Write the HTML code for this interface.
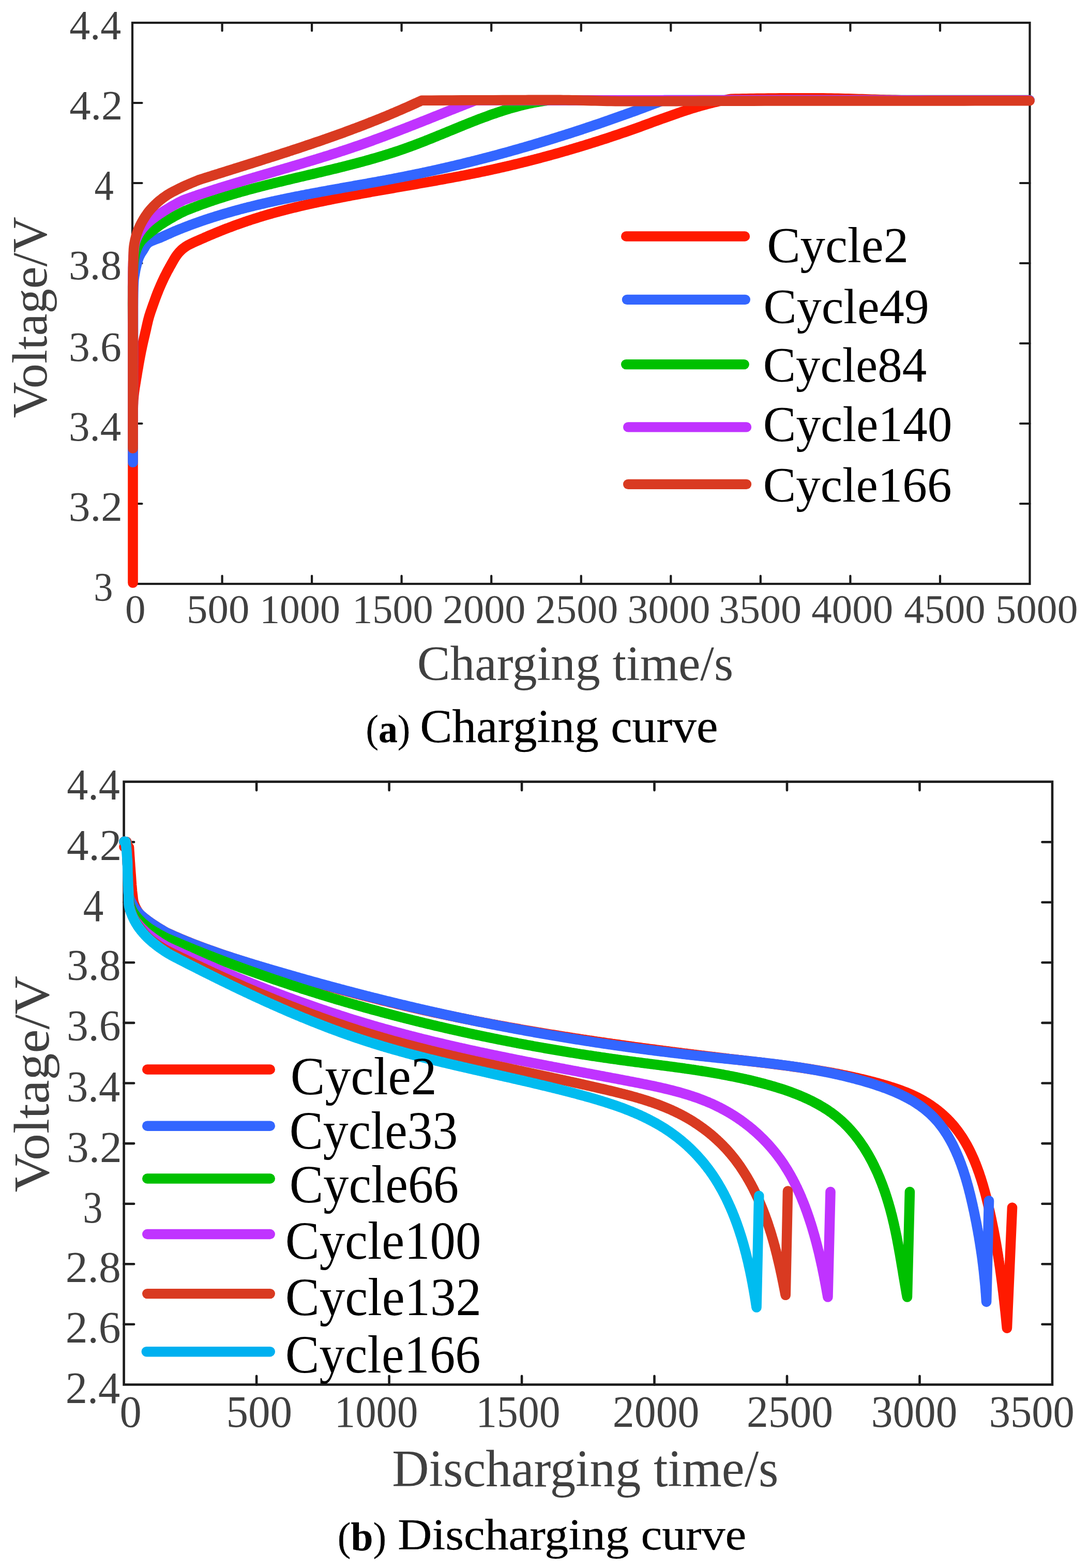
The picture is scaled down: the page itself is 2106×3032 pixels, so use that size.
<!DOCTYPE html>
<html lang="en"><head><meta charset="utf-8"><title>Charging and discharging curves</title>
<style>
html,body{margin:0;padding:0;background:#fff}
svg{display:block}
.c path{fill:none;stroke-width:19.6;stroke-linecap:round;stroke-linejoin:round}
text{font-family:'Liberation Serif', 'Times New Roman', serif;font-size:200px;white-space:pre}
.cap{stroke:#000;stroke-width:0.7px;stroke-linejoin:round}
</style></head>
<body>
<svg width="2106" height="3032" viewBox="0 0 2106 3032">
<rect width="2106" height="3032" fill="#ffffff"/>
<g class="a">
<rect x="256" y="44" width="1735.5" height="1085.0" fill="none" stroke="#1c1c1c" stroke-width="4.2"/>
<path d="M429.6 1129v-15.5M429.6 44v15.5M603.1 1129v-15.5M603.1 44v15.5M776.6 1129v-15.5M776.6 44v15.5M950.2 1129v-15.5M950.2 44v15.5M1123.8 1129v-15.5M1123.8 44v15.5M1297.3 1129v-15.5M1297.3 44v15.5M1470.8 1129v-15.5M1470.8 44v15.5M1644.4 1129v-15.5M1644.4 44v15.5M1818.0 1129v-15.5M1818.0 44v15.5M256 199.0h18.5M1991.5 199.0h-18.5M256 354.0h18.5M1991.5 354.0h-18.5M256 509.0h18.5M1991.5 509.0h-18.5M256 664.0h18.5M1991.5 664.0h-18.5M256 819.0h18.5M1991.5 819.0h-18.5M256 974.0h18.5M1991.5 974.0h-18.5" stroke="#1c1c1c" stroke-width="4.2" stroke-linecap="round" fill="none"/>
</g>
<g class="c">
<path d="M257.0 1127.0L257.0 1114.2L257.0 1101.4L257.0 1088.4L257.0 1075.5L257.0 1062.6L257.0 1049.7L257.0 1037.0L257.0 1024.4L257.0 1012.1L257.0 1000.0L257.0 989.5L257.0 979.3L257.0 969.3L257.0 959.4L257.0 949.6L257.0 939.8L257.0 930.0L257.0 920.1L257.0 910.1L257.0 900.0L257.0 888.9L257.0 877.1L256.9 865.0L256.9 852.7L256.8 840.5L256.8 828.7L256.8 817.5L256.9 807.1L257.0 797.7L257.2 789.7L257.3 786.2L257.4 783.1L257.6 780.2L257.7 777.5L257.8 775.0L258.0 772.5L258.2 770.1L258.4 767.7L258.6 765.2L258.9 762.6L259.2 760.0L259.5 757.4L259.9 754.9L260.2 752.4L260.6 749.8L261.0 747.3L261.5 744.6L261.9 741.9L262.4 739.0L262.9 736.0L263.6 731.4L264.5 726.5L265.3 721.3L266.2 715.9L267.2 710.4L268.1 704.8L269.1 699.3L270.1 693.8L271.1 688.4L272.1 683.3L273.0 678.7L274.0 674.2L274.9 669.6L275.9 665.1L276.9 660.7L277.9 656.3L278.9 652.1L279.9 647.9L280.8 643.9L281.7 640.0L282.4 637.1L283.0 634.3L283.6 631.5L284.2 628.9L284.8 626.3L285.4 623.7L286.0 621.1L286.6 618.6L287.3 616.1L288.0 613.5L288.7 611.0L289.5 608.5L290.3 606.1L291.1 603.6L291.9 601.2L292.8 598.7L293.6 596.3L294.5 593.9L295.3 591.4L296.2 589.0L297.1 586.5L298.0 584.0L298.9 581.5L299.8 579.0L300.7 576.5L301.6 574.0L302.6 571.5L303.5 569.0L304.5 566.5L305.5 564.0L306.5 561.4L307.6 558.9L308.7 556.3L309.8 553.7L310.9 551.1L312.1 548.5L313.2 546.0L314.4 543.4L315.6 540.8L316.8 538.3L318.0 535.8L319.3 533.2L320.6 530.7L321.9 528.1L323.2 525.6L324.5 523.1L325.9 520.6L327.3 518.1L328.6 515.6L330.0 513.2L331.3 510.9L332.6 508.5L334.0 506.2L335.3 503.8L336.6 501.5L338.0 499.3L339.4 497.1L340.8 495.0L342.3 492.9L343.8 491.0L345.1 489.4L346.4 487.9L347.7 486.5L349.1 485.1L350.4 483.8L351.8 482.5L353.3 481.2L354.8 480.0L356.5 478.7L358.2 477.5L360.6 475.9L363.1 474.4L365.9 472.9L368.7 471.5L371.7 470.1L374.7 468.7L377.7 467.3L380.7 466.0L383.6 464.8L386.4 463.5L389.2 462.3L391.9 461.1L394.7 459.9L397.4 458.6L400.2 457.5L402.9 456.3L405.7 455.1L408.5 453.9L411.3 452.8L414.0 451.6L416.8 450.4L419.6 449.3L422.4 448.2L425.2 447.1L427.9 445.9L430.7 444.8L433.5 443.7L436.3 442.6L439.1 441.6L441.9 440.5L444.7 439.4L447.5 438.4L450.3 437.3L453.1 436.3L456.0 435.2L458.8 434.2L461.6 433.2L464.4 432.2L467.2 431.2L470.1 430.2L472.9 429.2L475.7 428.3L478.6 427.3L481.4 426.4L484.2 425.4L487.1 424.5L489.9 423.6L492.8 422.7L495.6 421.8L498.5 420.9L501.3 420.0L504.2 419.1L507.0 418.2L509.9 417.4L512.8 416.5L515.6 415.7L518.5 414.8L521.4 414.0L524.3 413.2L527.1 412.4L530.0 411.6L532.9 410.8L535.8 410.0L538.7 409.2L541.6 408.4L544.5 407.7L547.4 406.9L550.2 406.2L553.1 405.4L556.0 404.7L558.9 403.9L561.8 403.2L564.8 402.5L567.7 401.8L570.6 401.1L573.5 400.4L576.4 399.7L579.3 399.0L582.2 398.3L585.1 397.6L588.0 397.0L591.0 396.3L593.9 395.6L596.8 395.0L599.7 394.3L602.7 393.7L605.6 393.0L608.5 392.4L611.4 391.8L614.4 391.1L617.3 390.5L620.2 389.9L623.2 389.3L626.1 388.7L629.0 388.1L632.0 387.5L634.9 386.9L637.8 386.3L640.8 385.7L643.7 385.1L646.7 384.5L649.6 383.9L652.5 383.3L655.5 382.8L658.4 382.2L661.4 381.6L664.3 381.0L667.3 380.5L670.2 379.9L673.1 379.4L676.1 378.8L679.0 378.2L682.0 377.7L684.9 377.1L687.9 376.6L690.8 376.1L693.8 375.5L696.7 375.0L699.7 374.4L702.6 373.9L705.6 373.4L708.6 372.8L711.5 372.3L714.5 371.8L717.4 371.2L720.4 370.7L723.3 370.2L726.3 369.7L729.2 369.1L732.2 368.6L735.1 368.1L738.1 367.6L741.1 367.1L744.0 366.6L747.0 366.0L749.9 365.5L752.9 365.0L755.8 364.5L758.8 364.0L761.8 363.5L764.7 362.9L767.7 362.4L770.6 361.9L773.6 361.4L776.6 360.9L779.5 360.4L782.5 359.9L785.4 359.4L788.4 358.9L791.4 358.3L794.3 357.8L797.3 357.3L800.2 356.8L803.2 356.3L806.1 355.8L809.1 355.2L812.1 354.7L815.0 354.2L818.0 353.7L820.9 353.2L823.9 352.7L826.8 352.1L829.8 351.6L832.8 351.1L835.7 350.6L838.7 350.0L841.6 349.5L844.6 349.0L847.5 348.4L850.5 347.9L853.4 347.4L856.4 346.8L859.3 346.3L862.3 345.7L865.3 345.2L868.2 344.7L871.2 344.1L874.1 343.6L877.1 343.0L880.0 342.4L883.0 341.9L885.9 341.3L888.8 340.8L891.8 340.2L894.7 339.6L897.7 339.1L900.6 338.5L903.6 337.9L906.5 337.3L909.5 336.7L912.4 336.1L915.3 335.6L918.3 335.0L921.2 334.4L924.2 333.8L927.1 333.2L930.0 332.5L933.0 331.9L935.9 331.3L938.8 330.7L941.8 330.1L944.7 329.4L947.6 328.8L950.6 328.2L953.5 327.5L956.4 326.9L959.4 326.2L962.3 325.6L965.2 324.9L968.1 324.2L971.1 323.6L974.0 322.9L976.9 322.2L979.8 321.6L982.8 320.9L985.7 320.2L988.6 319.5L991.5 318.8L994.4 318.1L997.3 317.4L1000.3 316.7L1003.2 316.0L1006.1 315.3L1009.0 314.6L1011.9 313.8L1014.8 313.1L1017.7 312.4L1020.6 311.7L1023.5 310.9L1026.4 310.2L1029.3 309.4L1032.2 308.7L1035.2 307.9L1038.1 307.2L1041.0 306.4L1043.9 305.7L1046.8 304.9L1049.6 304.1L1052.5 303.3L1055.4 302.6L1058.3 301.8L1061.2 301.0L1064.1 300.2L1067.0 299.4L1069.9 298.6L1072.8 297.8L1075.7 297.0L1078.6 296.2L1081.5 295.4L1084.3 294.6L1087.2 293.7L1090.1 292.9L1093.0 292.1L1095.9 291.3L1098.8 290.4L1101.6 289.6L1104.5 288.7L1107.4 287.9L1110.3 287.0L1113.1 286.2L1116.0 285.3L1118.9 284.5L1121.8 283.6L1124.6 282.7L1127.5 281.9L1130.4 281.0L1133.2 280.1L1136.1 279.2L1139.0 278.3L1141.8 277.4L1144.7 276.5L1147.6 275.6L1150.4 274.7L1153.3 273.8L1156.1 272.9L1159.0 272.0L1161.8 271.1L1164.7 270.1L1167.6 269.2L1170.4 268.3L1173.3 267.4L1176.1 266.4L1179.0 265.5L1181.8 264.5L1184.7 263.6L1187.5 262.6L1190.3 261.7L1193.2 260.7L1196.0 259.8L1198.9 258.8L1201.7 257.8L1204.6 256.8L1207.4 255.9L1210.2 254.9L1213.1 253.9L1215.9 252.9L1218.7 251.9L1221.6 250.9L1224.4 249.9L1227.2 248.9L1230.1 247.9L1232.9 246.9L1235.7 245.9L1238.5 244.9L1241.4 243.8L1244.2 242.8L1247.0 241.8L1249.8 240.8L1252.6 239.7L1255.5 238.7L1258.3 237.7L1261.1 236.6L1263.9 235.6L1266.7 234.6L1269.6 233.5L1272.4 232.5L1275.2 231.5L1278.0 230.5L1280.8 229.4L1283.7 228.4L1286.5 227.4L1289.3 226.4L1292.1 225.4L1295.0 224.4L1297.8 223.4L1300.6 222.4L1303.4 221.4L1306.3 220.4L1309.1 219.4L1311.9 218.4L1314.8 217.5L1317.6 216.5L1320.4 215.5L1323.3 214.6L1326.1 213.7L1329.0 212.7L1331.8 211.8L1334.7 210.9L1337.5 210.0L1340.4 209.1L1343.2 208.3L1346.1 207.4L1348.9 206.5L1351.8 205.7L1354.7 204.9L1357.6 204.1L1360.4 203.3L1363.3 202.5L1366.2 201.7L1369.1 200.9L1372.0 200.2L1374.9 199.5L1377.8 198.7L1380.7 198.0L1383.6 197.4L1386.5 196.7L1389.4 196.0L1392.3 195.4L1395.3 194.8L1398.2 194.2L1401.1 193.6L1404.1 193.1L1407.0 192.5L1410.0 192.0L1412.9 191.5L1415.0 191.2L1422.1 191.1L1429.1 191.0L1436.1 190.9L1443.1 190.8L1450.1 190.6L1457.1 190.5L1464.1 190.4L1471.2 190.3L1478.3 190.2L1485.4 190.1L1492.7 190.1L1500.0 190.0L1508.1 189.9L1516.3 189.9L1524.7 189.8L1533.1 189.8L1541.7 189.8L1550.2 189.8L1558.7 189.8L1567.2 189.8L1575.6 189.8L1583.9 189.8L1592.0 189.9L1600.0 190.0L1607.0 190.1L1613.9 190.2L1620.8 190.4L1627.5 190.5L1634.2 190.7L1640.9 190.9L1647.5 191.1L1654.1 191.3L1660.6 191.5L1667.1 191.6L1673.5 191.8L1680.0 192.0L1685.9 192.2L1691.7 192.3L1697.4 192.5L1703.0 192.7L1708.5 192.8L1714.1 193.0L1719.7 193.1L1725.4 193.3L1731.3 193.4L1737.3 193.6L1743.5 193.7L1750.0 193.8L1758.9 193.9L1768.1 194.0L1777.7 194.1L1787.6 194.1L1797.7 194.1L1808.0 194.2L1818.3 194.2L1828.8 194.2L1839.2 194.2L1849.6 194.2L1859.9 194.2L1870.0 194.2L1880.1 194.2L1890.1 194.2L1900.2 194.2L1910.3 194.2L1920.4 194.2L1930.5 194.2L1940.6 194.2L1950.6 194.2L1960.7 194.2L1970.8 194.2L1980.9 194.2L1991.0 194.2" stroke="#ff1a00"/>
<path d="M257.0 894.0L257.0 874.5L257.1 854.9L257.1 835.1L257.2 815.4L257.2 795.6L257.3 776.0L257.3 756.6L257.4 737.4L257.4 718.5L257.5 700.0L257.5 683.1L257.5 665.3L257.5 647.1L257.5 628.9L257.5 611.2L257.5 594.4L257.6 579.0L257.8 565.3L258.1 553.8L258.5 545.0L258.7 542.9L258.8 541.0L259.0 539.3L259.2 537.9L259.4 536.5L259.6 535.2L259.8 534.0L260.0 532.7L260.3 531.4L260.5 530.0L260.8 528.5L261.0 527.0L261.3 525.5L261.5 524.1L261.8 522.6L262.1 521.1L262.4 519.6L262.8 518.1L263.1 516.6L263.5 515.0L264.0 513.2L264.4 511.3L265.0 509.3L265.5 507.4L266.0 505.4L266.6 503.5L267.2 501.5L267.9 499.6L268.6 497.8L269.3 496.1L270.0 494.7L270.7 493.3L271.4 491.9L272.1 490.6L272.9 489.3L273.7 488.1L274.5 486.8L275.3 485.5L276.2 484.3L277.0 483.0L277.8 481.7L278.6 480.3L279.4 479.0L280.1 477.6L280.9 476.3L281.8 475.0L282.7 473.7L283.7 472.4L284.8 471.2L286.1 470.1L288.0 468.7L290.2 467.5L292.5 466.3L295.1 465.2L297.7 464.1L300.4 463.1L303.2 462.1L305.9 461.1L308.6 460.1L311.2 459.0L313.7 457.9L316.2 456.8L318.7 455.6L321.2 454.5L323.7 453.4L326.3 452.3L328.8 451.1L331.3 450.0L333.8 448.9L336.3 447.8L339.1 446.6L341.9 445.5L344.6 444.3L347.4 443.2L350.2 442.1L353.0 441.0L355.8 439.9L358.6 438.8L361.4 437.7L364.2 436.7L367.0 435.6L369.8 434.6L372.6 433.5L375.4 432.5L378.2 431.5L381.1 430.5L383.9 429.5L386.7 428.5L389.5 427.5L392.4 426.5L395.2 425.6L398.0 424.6L400.9 423.7L403.7 422.7L406.5 421.8L409.4 420.9L412.2 420.0L415.1 419.1L417.9 418.2L420.8 417.3L423.7 416.4L426.5 415.5L429.4 414.7L432.2 413.8L435.1 413.0L438.0 412.1L440.8 411.3L443.7 410.5L446.6 409.7L449.5 408.8L452.3 408.0L455.2 407.3L458.1 406.5L461.0 405.7L463.9 404.9L466.8 404.1L469.7 403.4L472.5 402.6L475.4 401.9L478.3 401.1L481.2 400.4L484.1 399.7L487.0 399.0L489.9 398.2L492.8 397.5L495.8 396.8L498.7 396.1L501.6 395.4L504.5 394.7L507.4 394.1L510.3 393.4L513.2 392.7L516.1 392.0L519.1 391.4L522.0 390.7L524.9 390.1L527.8 389.4L530.8 388.8L533.7 388.1L536.6 387.5L539.5 386.9L542.5 386.3L545.4 385.6L548.3 385.0L551.3 384.4L554.2 383.8L557.1 383.2L560.1 382.6L563.0 382.0L565.9 381.4L568.9 380.8L571.8 380.2L574.8 379.6L577.7 379.1L580.7 378.5L583.6 377.9L586.6 377.3L589.5 376.8L592.4 376.2L595.4 375.6L598.3 375.1L601.3 374.5L604.2 374.0L607.2 373.4L610.1 372.9L613.1 372.3L616.1 371.8L619.0 371.2L622.0 370.7L624.9 370.1L627.9 369.6L630.8 369.1L633.8 368.5L636.7 368.0L639.7 367.4L642.7 366.9L645.6 366.4L648.6 365.9L651.5 365.3L654.5 364.8L657.5 364.3L660.4 363.7L663.4 363.2L666.3 362.7L669.3 362.2L672.3 361.6L675.2 361.1L678.2 360.6L681.1 360.1L684.1 359.5L687.1 359.0L690.0 358.5L693.0 357.9L695.9 357.4L698.9 356.9L701.9 356.4L704.8 355.8L707.8 355.3L710.7 354.8L713.7 354.2L716.7 353.7L719.6 353.2L722.6 352.6L725.5 352.1L728.5 351.6L731.4 351.0L734.4 350.5L737.4 349.9L740.3 349.4L743.3 348.8L746.2 348.3L749.2 347.7L752.1 347.2L755.1 346.6L758.0 346.1L761.0 345.5L763.9 344.9L766.9 344.4L769.9 343.8L772.8 343.2L775.7 342.7L778.7 342.1L781.6 341.5L784.6 340.9L787.5 340.3L790.5 339.7L793.4 339.1L796.4 338.5L799.3 337.9L802.2 337.3L805.2 336.7L808.1 336.1L811.1 335.5L814.0 334.9L816.9 334.3L819.9 333.6L822.8 333.0L825.7 332.4L828.7 331.7L831.6 331.1L834.5 330.5L837.5 329.8L840.4 329.2L843.3 328.5L846.3 327.9L849.2 327.2L852.1 326.6L855.0 325.9L858.0 325.2L860.9 324.6L863.8 323.9L866.7 323.2L869.6 322.5L872.6 321.8L875.5 321.1L878.4 320.5L881.3 319.8L884.2 319.1L887.2 318.4L890.1 317.7L893.0 317.0L895.9 316.3L898.8 315.5L901.7 314.8L904.6 314.1L907.5 313.4L910.4 312.7L913.4 311.9L916.3 311.2L919.2 310.5L922.1 309.7L925.0 309.0L927.9 308.3L930.8 307.5L933.7 306.8L936.6 306.0L939.5 305.2L942.4 304.5L945.3 303.7L948.2 303.0L951.1 302.2L954.0 301.4L956.9 300.7L959.8 299.9L962.7 299.1L965.6 298.3L968.4 297.5L971.3 296.7L974.2 295.9L977.1 295.2L980.0 294.4L982.9 293.6L985.8 292.8L988.7 291.9L991.5 291.1L994.4 290.3L997.3 289.5L1000.2 288.7L1003.1 287.9L1006.0 287.0L1008.8 286.2L1011.7 285.4L1014.6 284.6L1017.5 283.7L1020.4 282.9L1023.2 282.0L1026.1 281.2L1029.0 280.4L1031.9 279.5L1034.7 278.6L1037.6 277.8L1040.5 276.9L1043.3 276.1L1046.2 275.2L1049.1 274.3L1052.0 273.5L1054.8 272.6L1057.7 271.7L1060.6 270.9L1063.4 270.0L1066.3 269.1L1069.1 268.2L1072.0 267.3L1074.9 266.4L1077.7 265.5L1080.6 264.6L1083.4 263.7L1086.3 262.8L1089.2 261.9L1092.0 261.0L1094.9 260.1L1097.7 259.2L1100.6 258.3L1103.4 257.4L1106.3 256.4L1109.1 255.5L1112.0 254.6L1114.9 253.7L1117.7 252.7L1120.6 251.8L1123.4 250.9L1126.2 249.9L1129.1 249.0L1131.9 248.0L1134.8 247.1L1137.6 246.1L1140.5 245.2L1143.3 244.2L1146.2 243.3L1149.0 242.3L1151.8 241.3L1154.7 240.4L1157.5 239.4L1160.4 238.4L1163.2 237.5L1166.0 236.5L1168.9 235.5L1171.7 234.5L1174.5 233.5L1177.4 232.6L1180.2 231.6L1183.0 230.6L1185.9 229.6L1188.7 228.6L1191.5 227.6L1194.4 226.6L1197.2 225.6L1200.0 224.6L1202.8 223.6L1205.7 222.6L1208.5 221.5L1211.3 220.5L1214.1 219.5L1217.0 218.5L1219.8 217.5L1222.6 216.4L1225.4 215.4L1228.3 214.4L1231.1 213.4L1233.9 212.3L1236.7 211.3L1239.5 210.2L1242.3 209.2L1245.2 208.2L1248.0 207.1L1250.8 206.1L1253.6 205.0L1256.4 204.0L1259.2 202.9L1262.0 201.8L1264.8 200.8L1267.7 199.7L1270.5 198.7L1273.3 197.6L1276.1 196.5L1278.9 195.5L1281.7 194.4L1284.0 193.5L1991.0 193.8" stroke="#3366ff"/>
<path d="M257.0 855.0L257.0 839.5L257.0 824.1L257.0 808.7L257.0 793.3L257.0 777.9L257.0 762.5L257.0 747.0L257.0 731.5L257.0 715.8L257.0 700.0L257.0 682.6L256.9 664.1L256.8 644.8L256.8 625.3L256.7 606.0L256.6 587.5L256.7 570.1L256.7 554.4L256.9 540.9L257.2 530.0L257.3 526.6L257.5 523.5L257.6 520.8L257.7 518.2L257.9 515.9L258.0 513.7L258.2 511.6L258.4 509.5L258.7 507.3L259.0 505.0L259.3 502.9L259.6 500.8L259.9 498.8L260.2 496.7L260.5 494.7L260.9 492.7L261.4 490.8L261.8 488.8L262.4 486.9L263.0 485.0L263.7 483.1L264.4 481.3L265.1 479.4L265.9 477.6L266.7 475.8L267.6 474.0L268.6 472.2L269.6 470.5L270.8 468.7L272.0 467.0L273.6 465.0L275.4 463.0L277.3 461.1L279.3 459.1L281.4 457.2L283.6 455.4L285.8 453.5L288.1 451.7L290.4 449.8L292.6 448.0L295.0 446.1L297.4 444.2L299.8 442.3L302.3 440.5L304.8 438.7L307.3 436.8L309.9 435.0L312.6 433.2L315.4 431.4L318.2 429.6L321.7 427.4L325.2 425.3L328.9 423.1L332.7 420.9L336.5 418.7L340.4 416.6L344.4 414.5L348.5 412.4L352.6 410.3L356.8 408.3L359.6 407.1L362.4 406.0L365.1 404.9L367.9 403.8L370.7 402.7L373.5 401.6L376.3 400.5L379.1 399.4L381.9 398.4L384.7 397.3L387.5 396.3L390.4 395.2L393.2 394.2L396.0 393.2L398.8 392.2L401.6 391.2L404.5 390.2L407.3 389.2L410.1 388.3L413.0 387.3L415.8 386.4L418.7 385.4L421.5 384.5L424.4 383.6L427.2 382.7L430.1 381.8L432.9 380.9L435.8 380.0L438.6 379.1L441.5 378.2L444.4 377.3L447.2 376.5L450.1 375.6L453.0 374.8L455.9 373.9L458.7 373.1L461.6 372.3L464.5 371.4L467.4 370.6L470.3 369.8L473.1 369.0L476.0 368.2L478.9 367.4L481.8 366.6L484.7 365.8L487.6 365.1L490.5 364.3L493.4 363.5L496.3 362.8L499.2 362.0L502.1 361.2L505.0 360.5L507.9 359.8L510.8 359.0L513.7 358.3L516.6 357.5L519.6 356.8L522.5 356.1L525.4 355.4L528.3 354.6L531.2 353.9L534.1 353.2L537.0 352.5L540.0 351.8L542.9 351.1L545.8 350.4L548.7 349.7L551.6 349.0L554.6 348.3L557.5 347.6L560.4 346.9L563.3 346.2L566.2 345.5L569.2 344.8L572.1 344.1L575.0 343.4L577.9 342.7L580.9 342.0L583.8 341.4L586.7 340.7L589.6 340.0L592.6 339.3L595.5 338.6L598.4 337.9L601.3 337.2L604.3 336.6L607.2 335.9L610.1 335.2L613.0 334.5L616.0 333.8L618.9 333.1L621.8 332.4L624.7 331.7L627.7 331.0L630.6 330.3L633.5 329.6L636.4 328.9L639.3 328.2L642.3 327.5L645.2 326.8L648.1 326.1L651.0 325.4L653.9 324.7L656.8 323.9L659.7 323.2L662.7 322.5L665.6 321.7L668.5 321.0L671.4 320.3L674.3 319.5L677.2 318.8L680.1 318.0L683.0 317.3L685.9 316.5L688.8 315.8L691.7 315.0L694.6 314.2L697.5 313.4L700.4 312.7L703.3 311.9L706.2 311.1L709.1 310.3L712.0 309.5L714.9 308.7L717.7 307.8L720.6 307.0L723.5 306.2L726.4 305.4L729.3 304.5L732.1 303.7L735.0 302.8L737.9 301.9L740.7 301.1L743.6 300.2L746.5 299.3L749.3 298.4L752.2 297.5L755.0 296.6L757.9 295.7L760.8 294.8L763.6 293.8L766.4 292.9L769.3 291.9L772.1 291.0L775.0 290.0L777.8 289.0L780.6 288.1L783.5 287.1L786.3 286.1L789.1 285.0L791.9 284.0L794.7 283.0L797.6 281.9L800.4 280.9L803.2 279.8L806.0 278.8L808.8 277.7L811.6 276.6L814.4 275.5L817.2 274.5L820.0 273.4L822.8 272.3L825.6 271.1L828.4 270.0L831.2 268.9L833.9 267.8L836.7 266.7L839.5 265.5L842.3 264.4L845.1 263.3L847.9 262.1L850.6 261.0L853.4 259.9L856.2 258.7L859.0 257.6L861.8 256.4L864.5 255.3L867.3 254.1L870.1 253.0L872.9 251.9L875.7 250.7L878.4 249.6L881.2 248.4L884.0 247.3L886.8 246.2L889.6 245.0L892.3 243.9L895.1 242.8L897.9 241.6L900.7 240.5L903.5 239.4L906.2 238.3L909.0 237.2L911.8 236.1L914.6 235.0L917.4 233.9L920.2 232.8L923.0 231.7L925.8 230.6L928.6 229.6L931.4 228.5L934.2 227.5L937.0 226.4L939.8 225.4L942.6 224.4L945.4 223.3L948.2 222.3L951.0 221.3L953.8 220.3L956.7 219.4L959.5 218.4L962.3 217.5L965.2 216.5L968.0 215.6L970.8 214.7L973.7 213.7L976.5 212.9L979.4 212.0L982.2 211.1L985.1 210.2L987.9 209.4L990.8 208.6L993.6 207.8L996.5 207.0L999.4 206.2L1002.3 205.4L1005.2 204.7L1008.0 203.9L1010.9 203.2L1013.8 202.5L1016.7 201.8L1019.6 201.2L1022.6 200.5L1025.5 199.9L1028.4 199.3L1031.3 198.7L1034.3 198.1L1037.2 197.6L1040.2 197.1L1043.1 196.5L1046.1 196.1L1049.0 195.6L1052.0 195.1L1055.0 194.7L1058.0 194.3L1060.9 193.9L1062.0 193.8L1991.0 193.6" stroke="#00c000"/>
<path d="M257.0 855.0L257.0 839.6L257.0 824.2L257.0 808.9L257.0 793.6L257.0 778.2L257.0 762.8L257.0 747.4L257.0 731.7L257.0 716.0L257.0 700.0L257.0 681.9L257.0 662.4L256.9 642.2L256.9 621.7L256.8 601.4L256.8 581.8L256.8 563.3L256.9 546.5L257.0 531.9L257.2 520.0L257.3 516.0L257.4 512.3L257.5 509.0L257.6 505.9L257.7 503.0L257.8 500.3L257.9 497.8L258.1 495.2L258.3 492.6L258.5 490.0L258.7 487.8L258.8 485.7L259.0 483.6L259.2 481.6L259.3 479.6L259.6 477.7L259.8 475.7L260.1 473.8L260.5 471.9L261.0 470.0L261.5 468.1L262.1 466.2L262.8 464.4L263.5 462.5L264.2 460.7L265.0 458.9L265.9 457.1L266.7 455.4L267.7 453.7L268.6 452.0L269.6 450.4L270.6 448.8L271.7 447.2L272.8 445.7L273.9 444.2L275.1 442.7L276.3 441.2L277.5 439.8L278.8 438.4L280.0 437.0L281.2 435.7L282.3 434.5L283.5 433.3L284.7 432.2L285.8 431.1L287.1 430.0L288.4 428.8L289.7 427.7L291.1 426.5L292.6 425.3L294.8 423.6L297.0 421.8L299.5 420.1L302.0 418.2L304.6 416.4L307.3 414.6L310.0 412.7L312.8 410.9L315.7 409.0L318.6 407.2L322.1 405.0L325.7 402.9L329.3 400.7L333.1 398.4L337.0 396.2L340.9 394.1L344.9 391.9L349.0 389.9L353.1 387.8L357.3 385.9L360.1 384.9L363.0 383.9L365.8 382.9L368.6 381.9L371.5 381.0L374.3 380.0L377.1 379.0L380.0 378.1L382.8 377.1L385.7 376.1L388.5 375.2L391.3 374.3L394.2 373.3L397.0 372.4L399.9 371.4L402.7 370.5L405.6 369.6L408.5 368.7L411.3 367.8L414.2 366.8L417.0 365.9L419.9 365.0L422.7 364.1L425.6 363.2L428.5 362.3L431.3 361.4L434.2 360.5L437.1 359.7L439.9 358.8L442.8 357.9L445.7 357.0L448.5 356.1L451.4 355.3L454.3 354.4L457.1 353.5L460.0 352.7L462.9 351.8L465.8 350.9L468.6 350.1L471.5 349.2L474.4 348.3L477.3 347.5L480.1 346.6L483.0 345.8L485.9 344.9L488.8 344.1L491.6 343.2L494.5 342.4L497.4 341.5L500.3 340.7L503.2 339.8L506.0 339.0L508.9 338.2L511.8 337.3L514.7 336.5L517.6 335.6L520.4 334.8L523.3 334.0L526.2 333.1L529.1 332.3L532.0 331.4L534.8 330.6L537.7 329.8L540.6 328.9L543.5 328.1L546.4 327.2L549.2 326.4L552.1 325.5L555.0 324.7L557.9 323.9L560.8 323.0L563.6 322.2L566.5 321.3L569.4 320.5L572.3 319.6L575.2 318.8L578.0 317.9L580.9 317.1L583.8 316.2L586.7 315.4L589.5 314.5L592.4 313.6L595.3 312.8L598.1 311.9L601.0 311.0L603.9 310.2L606.8 309.3L609.6 308.4L612.5 307.6L615.4 306.7L618.2 305.8L621.1 304.9L624.0 304.0L626.8 303.1L629.7 302.2L632.6 301.4L635.4 300.5L638.3 299.6L641.1 298.6L644.0 297.7L646.9 296.8L649.7 295.9L652.6 295.0L655.4 294.1L658.3 293.1L661.1 292.2L664.0 291.3L666.8 290.3L669.7 289.4L672.5 288.5L675.3 287.5L678.2 286.5L681.0 285.6L683.9 284.6L686.7 283.6L689.5 282.7L692.4 281.7L695.2 280.7L698.0 279.7L700.9 278.7L703.7 277.7L706.5 276.7L709.3 275.7L712.2 274.7L715.0 273.7L717.8 272.7L720.6 271.7L723.4 270.6L726.3 269.6L729.1 268.6L731.9 267.5L734.7 266.5L737.5 265.5L740.3 264.4L743.1 263.4L745.9 262.3L748.7 261.2L751.5 260.2L754.4 259.1L757.2 258.1L760.0 257.0L762.8 255.9L765.6 254.8L768.4 253.8L771.2 252.7L774.0 251.6L776.8 250.5L779.6 249.4L782.3 248.4L785.1 247.3L787.9 246.2L790.7 245.1L793.5 244.0L796.3 242.9L799.1 241.8L801.9 240.7L804.7 239.6L807.5 238.5L810.3 237.4L813.1 236.3L815.8 235.2L818.6 234.1L821.4 233.0L824.2 231.9L827.0 230.8L829.8 229.7L832.6 228.5L835.4 227.4L838.1 226.3L840.9 225.2L843.7 224.1L846.5 223.0L849.3 221.9L852.1 220.8L854.8 219.7L857.6 218.6L860.4 217.4L863.2 216.3L866.0 215.2L868.8 214.1L871.5 213.0L874.3 211.9L877.1 210.8L879.9 209.7L882.7 208.6L885.5 207.5L888.3 206.4L891.0 205.3L893.8 204.2L896.6 203.1L899.4 202.0L902.2 200.9L905.0 199.8L907.8 198.7L910.5 197.6L913.3 196.5L916.1 195.4L918.9 194.3L920.0 193.9L1991.0 193.7" stroke="#c033ff"/>
<path d="M257.0 867.0L257.0 850.3L257.0 833.7L257.0 817.1L257.0 800.5L257.0 783.9L257.0 767.3L257.0 750.6L257.0 733.8L257.0 717.0L257.0 700.0L257.0 681.5L257.0 661.6L257.0 640.8L257.0 619.8L257.0 599.2L257.0 579.4L257.0 561.0L257.1 544.6L257.2 530.7L257.3 520.0L257.3 517.2L257.4 514.7L257.5 512.6L257.5 510.6L257.6 508.8L257.6 507.1L257.7 505.4L257.8 503.7L257.8 502.0L257.9 500.0L258.0 497.8L258.0 495.6L258.1 493.3L258.2 491.0L258.2 488.7L258.3 486.4L258.4 484.2L258.5 482.0L258.7 479.9L258.9 477.8L259.1 476.1L259.3 474.5L259.6 472.9L259.8 471.3L260.1 469.8L260.4 468.3L260.7 466.8L261.0 465.2L261.3 463.7L261.7 462.2L262.1 460.7L262.5 459.1L262.9 457.6L263.3 456.1L263.8 454.6L264.3 453.0L264.7 451.5L265.2 450.0L265.8 448.6L266.3 447.1L266.8 445.7L267.4 444.3L267.9 442.9L268.5 441.5L269.1 440.1L269.7 438.8L270.3 437.4L271.0 436.1L271.6 434.7L272.3 433.4L273.0 432.0L273.7 430.7L274.4 429.4L275.2 428.0L276.0 426.7L276.7 425.4L277.5 424.0L278.3 422.7L279.1 421.5L279.9 420.2L280.7 419.0L281.4 417.8L282.2 416.7L283.0 415.5L283.8 414.4L284.6 413.2L285.4 412.1L286.2 411.0L287.1 409.8L288.0 408.7L289.0 407.5L290.1 406.2L291.2 405.0L292.3 403.7L293.4 402.5L294.6 401.2L295.7 400.0L296.9 398.8L298.1 397.6L299.3 396.4L300.5 395.2L301.7 394.1L302.9 393.0L304.2 391.8L305.4 390.7L306.7 389.6L307.9 388.6L309.2 387.5L310.5 386.4L311.8 385.4L313.1 384.4L314.5 383.3L315.8 382.3L317.2 381.4L318.5 380.4L319.9 379.4L321.3 378.5L322.7 377.5L324.2 376.6L325.6 375.7L327.1 374.8L328.6 373.9L330.2 373.0L331.7 372.2L333.3 371.3L334.9 370.5L336.4 369.7L338.1 368.9L339.7 368.0L341.3 367.2L343.0 366.3L344.8 365.4L346.5 364.6L348.2 363.7L350.0 362.9L351.8 362.0L353.6 361.1L355.5 360.3L357.4 359.4L359.4 358.5L361.9 357.4L364.5 356.3L367.1 355.1L369.8 354.0L372.6 352.8L375.4 351.7L378.2 350.5L381.0 349.4L383.7 348.3L386.4 347.3L389.3 346.4L392.1 345.5L395.0 344.6L397.8 343.7L400.7 342.8L403.5 341.9L406.4 341.0L409.3 340.1L412.1 339.2L415.0 338.3L417.8 337.4L420.7 336.5L423.6 335.6L426.4 334.7L429.3 333.8L432.2 332.9L435.0 332.0L437.9 331.1L440.7 330.2L443.6 329.3L446.5 328.4L449.3 327.5L452.2 326.6L455.0 325.7L457.9 324.8L460.8 323.9L463.6 323.0L466.5 322.1L469.4 321.2L472.2 320.3L475.1 319.4L477.9 318.5L480.8 317.6L483.7 316.7L486.5 315.8L489.4 314.9L492.2 314.0L495.1 313.1L498.0 312.2L500.8 311.3L503.7 310.4L506.5 309.5L509.4 308.6L512.3 307.6L515.1 306.7L518.0 305.8L520.8 304.9L523.7 304.0L526.5 303.1L529.4 302.2L532.3 301.2L535.1 300.3L538.0 299.4L540.8 298.5L543.7 297.6L546.5 296.6L549.4 295.7L552.2 294.8L555.1 293.9L557.9 292.9L560.8 292.0L563.6 291.1L566.5 290.1L569.3 289.2L572.2 288.2L575.0 287.3L577.9 286.4L580.7 285.4L583.6 284.5L586.4 283.5L589.2 282.6L592.1 281.6L594.9 280.6L597.8 279.7L600.6 278.7L603.5 277.8L606.3 276.8L609.1 275.8L612.0 274.8L614.8 273.9L617.6 272.9L620.5 271.9L623.3 270.9L626.1 269.9L629.0 269.0L631.8 268.0L634.6 267.0L637.5 266.0L640.3 265.0L643.1 264.0L645.9 263.0L648.8 262.0L651.6 261.0L654.4 259.9L657.2 258.9L660.0 257.9L662.9 256.9L665.7 255.9L668.5 254.8L671.3 253.8L674.1 252.7L676.9 251.7L679.7 250.7L682.5 249.6L685.4 248.6L688.2 247.5L691.0 246.4L693.8 245.4L696.6 244.3L699.4 243.2L702.2 242.2L705.0 241.1L707.8 240.0L710.6 238.9L713.4 237.8L716.1 236.7L718.9 235.6L721.7 234.5L724.5 233.4L727.3 232.3L730.1 231.2L732.9 230.1L735.6 229.0L738.4 227.8L741.2 226.7L744.0 225.6L746.8 224.4L749.5 223.3L752.3 222.1L755.1 221.0L757.8 219.8L760.6 218.6L763.4 217.5L766.1 216.3L768.9 215.1L771.6 213.9L774.4 212.7L777.2 211.5L779.9 210.3L782.7 209.1L785.4 207.9L788.2 206.7L790.9 205.5L793.6 204.3L796.4 203.0L799.1 201.8L801.9 200.5L804.6 199.3L807.3 198.0L810.1 196.8L812.8 195.5L815.4 194.3L834.2 194.2L853.7 194.1L873.7 194.0L893.8 193.9L914.0 193.8L934.0 193.7L953.5 193.7L972.3 193.6L990.2 193.5L1006.9 193.5L1022.2 193.4L1036.0 193.4L1042.6 193.4L1048.8 193.4L1054.4 193.4L1059.8 193.4L1064.8 193.4L1069.7 193.4L1074.5 193.4L1079.3 193.4L1084.1 193.4L1089.1 193.5L1094.4 193.5L1100.0 193.6L1106.9 193.7L1114.0 193.8L1121.2 194.0L1128.5 194.2L1136.0 194.4L1143.5 194.6L1151.1 194.8L1158.8 195.0L1166.5 195.2L1174.3 195.4L1182.1 195.5L1190.0 195.6L1198.7 195.7L1207.6 195.7L1216.5 195.8L1225.4 195.8L1234.5 195.8L1243.6 195.8L1252.8 195.7L1262.1 195.7L1271.4 195.7L1280.9 195.7L1290.4 195.6L1300.0 195.6L1310.7 195.6L1321.2 195.5L1331.7 195.5L1342.3 195.5L1353.0 195.4L1363.8 195.4L1374.8 195.3L1386.2 195.3L1397.9 195.2L1410.1 195.2L1422.8 195.1L1436.0 195.1L1457.0 195.1L1479.5 195.0L1503.3 195.0L1528.2 195.0L1553.9 195.0L1580.2 195.0L1606.8 195.0L1633.5 195.0L1660.0 195.0L1686.1 195.0L1711.5 195.0L1736.0 195.0L1758.0 195.0L1779.7 195.0L1801.2 194.9L1822.5 194.9L1843.7 194.9L1864.8 194.9L1885.8 194.8L1906.8 194.8L1927.7 194.8L1948.7 194.8L1969.8 194.7L1991.0 194.7" stroke="#d93a21"/>
</g>
<g class="l">
<line x1="1210.7" y1="457.0" x2="1440.5" y2="457.0" stroke="#ff1a00" stroke-width="19.4" stroke-linecap="round"/>
<line x1="1212.5" y1="579.4" x2="1441.3" y2="579.4" stroke="#3366ff" stroke-width="19.4" stroke-linecap="round"/>
<line x1="1210.7" y1="704.6" x2="1439.2" y2="704.6" stroke="#00c000" stroke-width="19.4" stroke-linecap="round"/>
<line x1="1214.7" y1="825.9" x2="1443.5" y2="825.9" stroke="#c033ff" stroke-width="19.4" stroke-linecap="round"/>
<line x1="1214.7" y1="936.4" x2="1443.5" y2="936.4" stroke="#d93a21" stroke-width="19.4" stroke-linecap="round"/>
</g>
<g class="a">
<rect x="239.6" y="1511.6" width="1795.4" height="1165.8" fill="none" stroke="#1c1c1c" stroke-width="4.6"/>
<path d="M496.1 2677.4v-16.5M496.1 1511.6v16.5M752.6 2677.4v-16.5M752.6 1511.6v16.5M1009.1 2677.4v-16.5M1009.1 1511.6v16.5M1265.5 2677.4v-16.5M1265.5 1511.6v16.5M1522.0 2677.4v-16.5M1522.0 1511.6v16.5M1778.5 2677.4v-16.5M1778.5 1511.6v16.5M239.6 1628.2h19.5M2035 1628.2h-19.5M239.6 1744.8h19.5M2035 1744.8h-19.5M239.6 1861.3h19.5M2035 1861.3h-19.5M239.6 1977.9h19.5M2035 1977.9h-19.5M239.6 2094.5h19.5M2035 2094.5h-19.5M239.6 2211.1h19.5M2035 2211.1h-19.5M239.6 2327.7h19.5M2035 2327.7h-19.5M239.6 2444.2h19.5M2035 2444.2h-19.5M239.6 2560.8h19.5M2035 2560.8h-19.5" stroke="#1c1c1c" stroke-width="4.6" stroke-linecap="round" fill="none"/>
</g>
<g class="c">
<path d="M240.0 1637.5L249.5 1638.5L249.8 1643.7L250.2 1648.9L250.5 1654.2L250.9 1659.4L251.2 1664.7L251.6 1669.9L251.9 1675.0L252.3 1680.1L252.6 1685.1L253.0 1690.0L253.3 1694.3L253.6 1698.6L253.9 1702.9L254.2 1707.1L254.5 1711.3L254.9 1715.4L255.2 1719.3L255.5 1723.1L255.9 1726.6L256.3 1730.0L256.6 1732.1L256.8 1734.2L257.0 1736.1L257.2 1738.0L257.5 1739.8L257.7 1741.5L258.1 1743.3L258.5 1745.0L258.9 1746.7L259.5 1748.5L260.2 1750.4L261.0 1752.3L261.8 1754.2L262.8 1756.0L263.8 1757.9L264.8 1759.7L265.9 1761.5L267.0 1763.2L268.2 1764.8L269.4 1766.4L270.6 1767.7L271.8 1769.0L273.0 1770.2L274.3 1771.4L275.7 1772.5L277.0 1773.6L278.4 1774.7L279.8 1775.7L281.1 1776.7L282.5 1777.8L283.8 1778.8L285.1 1779.8L286.3 1780.7L287.6 1781.6L288.9 1782.5L290.2 1783.4L291.5 1784.4L292.9 1785.3L294.4 1786.3L295.9 1787.3L298.1 1788.8L300.5 1790.3L303.0 1791.9L305.6 1793.6L308.3 1795.3L311.0 1797.0L313.8 1798.6L316.5 1800.3L319.2 1801.8L321.9 1803.3L324.6 1804.6L327.4 1805.8L330.1 1807.0L332.8 1808.2L335.6 1809.4L338.3 1810.6L341.1 1811.8L343.8 1813.0L346.6 1814.2L349.3 1815.4L352.1 1816.5L354.8 1817.7L357.6 1818.8L360.4 1819.9L363.2 1821.1L365.9 1822.2L368.7 1823.3L371.5 1824.4L374.3 1825.5L377.1 1826.6L379.9 1827.7L382.7 1828.7L385.5 1829.8L388.3 1830.8L391.1 1831.9L393.9 1832.9L396.7 1834.0L399.5 1835.0L402.3 1836.0L405.2 1837.1L408.0 1838.1L410.8 1839.1L413.6 1840.1L416.4 1841.1L419.3 1842.1L422.1 1843.0L424.9 1844.0L427.8 1845.0L430.6 1846.0L433.5 1846.9L436.3 1847.9L439.1 1848.8L442.0 1849.8L444.8 1850.7L447.7 1851.7L450.5 1852.6L453.4 1853.5L456.2 1854.5L459.1 1855.4L462.0 1856.3L464.8 1857.2L467.7 1858.1L470.5 1859.0L473.4 1859.9L476.3 1860.8L479.1 1861.7L482.0 1862.6L484.9 1863.5L487.7 1864.4L490.6 1865.3L493.5 1866.2L496.3 1867.1L499.2 1867.9L502.1 1868.8L505.0 1869.7L507.8 1870.6L510.7 1871.4L513.6 1872.3L516.5 1873.2L519.3 1874.0L522.2 1874.9L525.1 1875.7L528.0 1876.6L530.8 1877.5L533.7 1878.3L536.6 1879.2L539.5 1880.0L542.4 1880.9L545.2 1881.7L548.1 1882.6L551.0 1883.4L553.9 1884.3L556.8 1885.1L559.6 1886.0L562.5 1886.8L565.4 1887.6L568.3 1888.5L571.2 1889.3L574.1 1890.1L576.9 1891.0L579.8 1891.8L582.7 1892.6L585.6 1893.4L588.5 1894.3L591.4 1895.1L594.3 1895.9L597.2 1896.7L600.0 1897.5L602.9 1898.3L605.8 1899.2L608.7 1900.0L611.6 1900.8L614.5 1901.6L617.4 1902.4L620.3 1903.2L623.2 1904.0L626.1 1904.8L628.9 1905.6L631.8 1906.4L634.7 1907.2L637.6 1908.0L640.5 1908.8L643.4 1909.5L646.3 1910.3L649.2 1911.1L652.1 1911.9L655.0 1912.7L657.9 1913.5L660.8 1914.2L663.7 1915.0L666.6 1915.8L669.5 1916.5L672.4 1917.3L675.3 1918.1L678.2 1918.8L681.1 1919.6L684.0 1920.4L686.9 1921.1L689.8 1921.9L692.7 1922.6L695.6 1923.4L698.5 1924.1L701.4 1924.9L704.3 1925.6L707.2 1926.4L710.1 1927.1L713.1 1927.8L716.0 1928.6L718.9 1929.3L721.8 1930.0L724.7 1930.8L727.6 1931.5L730.5 1932.2L733.4 1932.9L736.3 1933.7L739.2 1934.4L742.2 1935.1L745.1 1935.8L748.0 1936.5L750.9 1937.2L753.8 1937.9L756.7 1938.6L759.6 1939.3L762.6 1940.0L765.5 1940.7L768.4 1941.4L771.3 1942.1L774.2 1942.8L777.1 1943.5L780.1 1944.2L783.0 1944.9L785.9 1945.6L788.8 1946.2L791.7 1946.9L794.7 1947.6L797.6 1948.3L800.5 1948.9L803.4 1949.6L806.4 1950.3L809.3 1950.9L812.2 1951.6L815.1 1952.3L818.0 1952.9L821.0 1953.6L823.9 1954.2L826.8 1954.9L829.8 1955.5L832.7 1956.2L835.6 1956.8L838.5 1957.4L841.5 1958.1L844.4 1958.7L847.3 1959.3L850.3 1960.0L853.2 1960.6L856.1 1961.2L859.1 1961.8L862.0 1962.5L864.9 1963.1L867.9 1963.7L870.8 1964.3L873.7 1964.9L876.7 1965.5L879.6 1966.1L882.5 1966.8L885.5 1967.4L888.4 1968.0L891.4 1968.6L894.3 1969.1L897.2 1969.7L900.2 1970.3L903.1 1970.9L906.1 1971.5L909.0 1972.1L911.9 1972.7L914.9 1973.3L917.8 1973.8L920.8 1974.4L923.7 1975.0L926.6 1975.6L929.6 1976.1L932.5 1976.7L935.5 1977.3L938.4 1977.8L941.4 1978.4L944.3 1979.0L947.3 1979.5L950.2 1980.1L953.2 1980.6L956.1 1981.2L959.1 1981.7L962.0 1982.3L964.9 1982.8L967.9 1983.4L970.8 1983.9L973.8 1984.4L976.7 1985.0L979.7 1985.5L982.6 1986.1L985.6 1986.6L988.6 1987.1L991.5 1987.6L994.5 1988.2L997.4 1988.7L1000.4 1989.2L1003.3 1989.7L1006.3 1990.3L1009.2 1990.8L1012.2 1991.3L1015.1 1991.8L1018.1 1992.3L1021.0 1992.8L1024.0 1993.3L1027.0 1993.8L1029.9 1994.4L1032.9 1994.9L1035.8 1995.4L1038.8 1995.9L1041.7 1996.4L1044.7 1996.8L1047.7 1997.3L1050.6 1997.8L1053.6 1998.3L1056.5 1998.8L1059.5 1999.3L1062.5 1999.8L1065.4 2000.3L1068.4 2000.8L1071.3 2001.2L1074.3 2001.7L1077.3 2002.2L1080.2 2002.7L1083.2 2003.1L1086.2 2003.6L1089.1 2004.1L1092.1 2004.6L1095.0 2005.0L1098.0 2005.5L1101.0 2006.0L1103.9 2006.4L1106.9 2006.9L1109.9 2007.3L1112.8 2007.8L1115.8 2008.3L1118.8 2008.7L1121.7 2009.2L1124.7 2009.6L1127.7 2010.1L1130.6 2010.5L1133.6 2011.0L1136.6 2011.4L1139.5 2011.9L1142.5 2012.3L1145.5 2012.7L1148.4 2013.2L1151.4 2013.6L1154.4 2014.1L1157.3 2014.5L1160.3 2014.9L1163.3 2015.4L1166.3 2015.8L1169.2 2016.2L1172.2 2016.7L1175.2 2017.1L1178.1 2017.5L1181.1 2017.9L1184.1 2018.4L1187.0 2018.8L1190.0 2019.2L1193.0 2019.6L1196.0 2020.0L1198.9 2020.5L1201.9 2020.9L1204.9 2021.3L1207.8 2021.7L1210.8 2022.1L1213.8 2022.5L1216.8 2022.9L1219.7 2023.3L1222.7 2023.8L1225.7 2024.2L1228.7 2024.6L1231.6 2025.0L1234.6 2025.4L1237.6 2025.8L1240.6 2026.2L1243.5 2026.6L1246.5 2027.0L1249.5 2027.4L1252.4 2027.8L1255.4 2028.2L1258.4 2028.6L1261.4 2028.9L1264.3 2029.3L1267.3 2029.7L1270.3 2030.1L1273.3 2030.5L1276.2 2030.9L1279.2 2031.3L1282.2 2031.7L1285.2 2032.0L1288.2 2032.4L1291.1 2032.8L1294.1 2033.2L1297.1 2033.6L1300.1 2034.0L1303.0 2034.3L1306.0 2034.7L1309.0 2035.1L1312.0 2035.5L1314.9 2035.8L1317.9 2036.2L1320.9 2036.6L1323.9 2037.0L1326.8 2037.3L1329.8 2037.7L1332.8 2038.1L1335.8 2038.4L1338.8 2038.8L1341.7 2039.2L1344.7 2039.5L1347.7 2039.9L1350.7 2040.3L1353.6 2040.6L1356.6 2041.0L1359.6 2041.3L1362.6 2041.7L1365.6 2042.1L1368.5 2042.4L1371.5 2042.8L1374.5 2043.1L1377.5 2043.5L1380.4 2043.8L1383.4 2044.2L1386.4 2044.6L1389.4 2044.9L1392.4 2045.3L1395.3 2045.6L1398.3 2046.0L1401.3 2046.3L1404.3 2046.7L1407.2 2047.0L1410.2 2047.4L1413.2 2047.7L1416.2 2048.1L1419.2 2048.4L1422.1 2048.8L1425.1 2049.1L1428.1 2049.5L1431.1 2049.8L1434.0 2050.1L1437.0 2050.5L1440.0 2050.8L1443.0 2051.2L1446.0 2051.5L1448.9 2051.9L1451.9 2052.2L1454.9 2052.6L1457.9 2052.9L1460.8 2053.3L1463.8 2053.6L1466.8 2054.0L1469.8 2054.3L1472.7 2054.7L1475.7 2055.0L1478.7 2055.4L1481.7 2055.8L1484.6 2056.1L1487.6 2056.5L1490.6 2056.8L1493.6 2057.2L1496.5 2057.6L1499.5 2058.0L1502.5 2058.3L1505.5 2058.7L1508.4 2059.1L1511.4 2059.5L1514.4 2059.9L1517.3 2060.3L1520.3 2060.6L1523.3 2061.0L1526.3 2061.4L1529.2 2061.8L1532.2 2062.3L1535.2 2062.7L1538.1 2063.1L1541.1 2063.5L1544.1 2063.9L1547.0 2064.3L1550.0 2064.8L1553.0 2065.2L1555.9 2065.7L1558.9 2066.1L1561.8 2066.5L1564.8 2067.0L1567.8 2067.5L1570.7 2067.9L1573.7 2068.4L1576.6 2068.9L1579.6 2069.3L1582.6 2069.8L1585.5 2070.3L1588.5 2070.8L1591.4 2071.3L1594.4 2071.8L1597.3 2072.4L1600.3 2072.9L1603.3 2073.4L1606.2 2073.9L1609.2 2074.5L1612.1 2075.0L1615.1 2075.6L1618.0 2076.1L1621.0 2076.7L1623.9 2077.3L1626.8 2077.9L1629.8 2078.5L1632.7 2079.1L1635.7 2079.7L1638.6 2080.3L1641.6 2080.9L1644.5 2081.5L1647.5 2082.2L1650.4 2082.8L1653.3 2083.5L1656.3 2084.1L1659.2 2084.8L1662.1 2085.5L1665.1 2086.2L1668.0 2086.9L1670.9 2087.6L1673.9 2088.3L1676.8 2089.0L1679.7 2089.7L1682.7 2090.5L1685.6 2091.2L1688.5 2092.0L1691.4 2092.8L1694.4 2093.6L1697.3 2094.3L1700.2 2095.1L1703.1 2096.0L1706.0 2096.8L1708.9 2097.6L1711.9 2098.5L1714.8 2099.3L1717.7 2100.2L1720.6 2101.1L1723.5 2102.0L1726.4 2102.9L1729.2 2103.8L1732.1 2104.8L1735.0 2105.8L1737.8 2106.8L1740.7 2107.8L1743.5 2108.8L1746.3 2109.9L1749.2 2110.9L1752.0 2112.1L1754.7 2113.2L1757.5 2114.3L1760.3 2115.5L1763.0 2116.7L1765.7 2118.0L1768.5 2119.2L1771.1 2120.5L1773.8 2121.8L1776.5 2123.2L1779.1 2124.6L1781.7 2126.0L1784.3 2127.5L1786.9 2128.9L1789.5 2130.5L1792.0 2132.0L1794.5 2133.6L1797.0 2135.2L1799.5 2136.8L1801.9 2138.5L1804.3 2140.2L1806.7 2141.9L1809.1 2143.7L1811.4 2145.4L1813.8 2147.3L1816.1 2149.1L1818.3 2151.0L1820.6 2152.9L1822.8 2154.8L1825.0 2156.8L1827.1 2158.8L1829.3 2160.8L1831.4 2162.8L1833.5 2164.9L1835.5 2167.0L1837.5 2169.1L1839.5 2171.3L1841.5 2173.5L1843.4 2175.7L1845.3 2177.9L1847.1 2180.2L1848.9 2182.5L1850.7 2184.8L1852.5 2187.2L1854.2 2189.5L1855.9 2191.9L1857.6 2194.4L1859.3 2196.8L1860.9 2199.3L1862.5 2201.8L1864.0 2204.3L1865.5 2206.8L1867.0 2209.3L1868.5 2211.9L1870.0 2214.5L1871.4 2217.1L1872.8 2219.8L1874.2 2222.4L1875.5 2225.1L1876.8 2227.8L1878.1 2230.5L1879.4 2233.2L1880.6 2235.9L1881.9 2238.7L1883.1 2241.4L1884.3 2244.2L1885.4 2247.0L1886.6 2249.8L1887.7 2252.7L1888.8 2255.5L1889.8 2258.3L1890.9 2261.2L1891.9 2264.1L1893.0 2266.9L1894.0 2269.8L1894.9 2272.7L1895.9 2275.6L1896.9 2278.5L1897.8 2281.5L1898.7 2284.4L1899.6 2287.3L1900.5 2290.3L1901.4 2293.2L1902.2 2296.2L1903.0 2299.1L1903.9 2302.1L1904.7 2305.0L1905.5 2308.0L1906.3 2311.0L1907.0 2313.9L1907.8 2316.9L1908.5 2319.9L1909.3 2322.9L1910.0 2325.8L1910.7 2328.8L1911.4 2331.8L1912.1 2334.8L1912.8 2337.7L1913.5 2340.7L1914.2 2343.7L1914.8 2346.6L1915.5 2349.6L1916.1 2352.5L1916.8 2355.5L1917.4 2358.5L1918.0 2361.4L1918.6 2364.3L1919.2 2367.3L1919.8 2370.2L1920.4 2373.2L1921.0 2376.1L1921.6 2379.1L1922.2 2382.0L1922.7 2384.9L1923.3 2387.9L1923.8 2390.8L1924.4 2393.7L1924.9 2396.6L1925.4 2399.6L1926.0 2402.5L1926.5 2405.4L1927.0 2408.4L1927.5 2411.3L1928.0 2414.2L1928.5 2417.1L1928.9 2420.1L1929.4 2423.0L1929.9 2425.9L1930.4 2428.8L1930.8 2431.8L1931.3 2434.7L1931.7 2437.6L1932.2 2440.5L1932.6 2443.5L1933.0 2446.4L1933.5 2449.3L1933.9 2452.2L1934.3 2455.2L1934.7 2458.1L1935.1 2461.0L1935.5 2464.0L1935.9 2466.9L1936.3 2469.8L1936.7 2472.8L1937.1 2475.7L1937.5 2478.7L1937.9 2481.6L1938.2 2484.5L1938.6 2487.5L1939.0 2490.4L1939.3 2493.4L1939.7 2496.4L1940.1 2499.3L1940.4 2502.3L1940.8 2505.2L1941.1 2508.2L1941.4 2511.2L1941.8 2514.1L1942.1 2517.1L1942.4 2520.1L1942.8 2523.1L1943.1 2526.1L1943.4 2529.1L1943.7 2532.1L1944.1 2535.1L1944.4 2538.1L1944.7 2541.1L1945.0 2544.1L1945.3 2547.1L1945.6 2550.1L1945.9 2553.1L1946.2 2556.2L1946.5 2559.2L1946.8 2562.2L1947.1 2565.3L1947.4 2568.2L1957.5 2335.0" stroke="#ff1a00"/>
<path d="M240.0 1627.4L245.0 1628.0L245.1 1631.5L245.3 1634.9L245.4 1638.4L245.6 1641.8L245.7 1645.3L245.9 1648.7L246.0 1652.2L246.1 1655.7L246.3 1659.2L246.4 1662.7L246.5 1666.4L246.6 1670.2L246.8 1674.0L246.9 1677.8L247.0 1681.6L247.1 1685.4L247.2 1689.2L247.3 1692.9L247.4 1696.6L247.6 1700.3L247.7 1703.7L247.8 1707.1L247.8 1710.6L247.8 1714.0L247.9 1717.4L248.0 1720.7L248.2 1724.0L248.5 1727.1L248.9 1730.1L249.5 1733.0L250.1 1735.2L250.8 1737.4L251.6 1739.5L252.5 1741.5L253.4 1743.5L254.4 1745.4L255.4 1747.2L256.5 1749.1L257.5 1750.9L258.6 1752.6L259.6 1754.1L260.6 1755.6L261.6 1757.1L262.6 1758.5L263.7 1759.9L264.8 1761.2L265.9 1762.5L267.0 1763.8L268.2 1765.1L269.4 1766.4L270.6 1767.6L271.9 1768.9L273.1 1770.0L274.4 1771.2L275.8 1772.3L277.1 1773.5L278.4 1774.6L279.8 1775.7L281.2 1776.7L282.5 1777.8L283.8 1778.8L285.1 1779.8L286.3 1780.7L287.6 1781.6L288.9 1782.5L290.2 1783.4L291.5 1784.4L292.9 1785.3L294.4 1786.3L295.9 1787.3L298.1 1788.8L300.5 1790.3L303.0 1791.9L305.6 1793.6L308.3 1795.3L311.0 1797.0L313.8 1798.6L316.5 1800.3L319.2 1801.8L321.9 1803.3L324.6 1804.6L327.3 1805.8L330.1 1807.1L332.8 1808.3L335.5 1809.5L338.3 1810.7L341.0 1811.9L343.8 1813.1L346.5 1814.3L349.3 1815.4L352.0 1816.6L354.8 1817.8L357.6 1818.9L360.3 1820.0L363.1 1821.2L365.9 1822.3L368.7 1823.4L371.5 1824.5L374.3 1825.6L377.0 1826.7L379.8 1827.7L382.6 1828.8L385.4 1829.9L388.2 1830.9L391.1 1832.0L393.9 1833.0L396.7 1834.0L399.5 1835.1L402.3 1836.1L405.1 1837.1L408.0 1838.1L410.8 1839.1L413.6 1840.1L416.4 1841.1L419.3 1842.1L422.1 1843.0L425.0 1844.0L427.8 1845.0L430.6 1845.9L433.5 1846.9L436.3 1847.8L439.2 1848.8L442.0 1849.7L444.9 1850.6L447.7 1851.6L450.6 1852.5L453.4 1853.4L456.3 1854.3L459.2 1855.2L462.0 1856.1L464.9 1857.0L467.8 1857.9L470.6 1858.8L473.5 1859.7L476.4 1860.6L479.2 1861.5L482.1 1862.4L485.0 1863.2L487.9 1864.1L490.7 1865.0L493.6 1865.9L496.5 1866.7L499.4 1867.6L502.2 1868.4L505.1 1869.3L508.0 1870.2L510.9 1871.0L513.7 1871.9L516.6 1872.7L519.5 1873.6L522.4 1874.4L525.3 1875.3L528.1 1876.1L531.0 1877.0L533.9 1877.8L536.8 1878.7L539.7 1879.5L542.6 1880.3L545.4 1881.2L548.3 1882.0L551.2 1882.8L554.1 1883.7L557.0 1884.5L559.9 1885.3L562.7 1886.2L565.6 1887.0L568.5 1887.8L571.4 1888.6L574.3 1889.5L577.2 1890.3L580.1 1891.1L583.0 1891.9L585.8 1892.7L588.7 1893.5L591.6 1894.4L594.5 1895.2L597.4 1896.0L600.3 1896.8L603.2 1897.6L606.1 1898.4L609.0 1899.2L611.8 1900.0L614.7 1900.8L617.6 1901.6L620.5 1902.4L623.4 1903.2L626.3 1904.0L629.2 1904.8L632.1 1905.6L635.0 1906.3L637.9 1907.1L640.8 1907.9L643.7 1908.7L646.6 1909.5L649.5 1910.3L652.4 1911.0L655.3 1911.8L658.2 1912.6L661.1 1913.4L664.0 1914.1L666.9 1914.9L669.8 1915.7L672.7 1916.4L675.6 1917.2L678.5 1917.9L681.4 1918.7L684.3 1919.5L687.2 1920.2L690.1 1921.0L693.0 1921.7L695.9 1922.5L698.8 1923.2L701.7 1924.0L704.6 1924.7L707.5 1925.5L710.4 1926.2L713.3 1926.9L716.2 1927.7L719.1 1928.4L722.0 1929.2L724.9 1929.9L727.8 1930.6L730.7 1931.3L733.7 1932.1L736.6 1932.8L739.5 1933.5L742.4 1934.2L745.3 1935.0L748.2 1935.7L751.1 1936.4L754.0 1937.1L756.9 1937.8L759.9 1938.5L762.8 1939.2L765.7 1939.9L768.6 1940.7L771.5 1941.4L774.4 1942.1L777.3 1942.8L780.3 1943.4L783.2 1944.1L786.1 1944.8L789.0 1945.5L791.9 1946.2L794.8 1946.9L797.8 1947.6L800.7 1948.3L803.6 1949.0L806.5 1949.6L809.4 1950.3L812.4 1951.0L815.3 1951.7L818.2 1952.3L821.1 1953.0L824.1 1953.7L827.0 1954.3L829.9 1955.0L832.8 1955.7L835.8 1956.3L838.7 1957.0L841.6 1957.6L844.5 1958.3L847.5 1958.9L850.4 1959.6L853.3 1960.2L856.3 1960.9L859.2 1961.5L862.1 1962.2L865.0 1962.8L868.0 1963.4L870.9 1964.1L873.8 1964.7L876.8 1965.3L879.7 1966.0L882.6 1966.6L885.6 1967.2L888.5 1967.8L891.4 1968.5L894.4 1969.1L897.3 1969.7L900.2 1970.3L903.2 1970.9L906.1 1971.5L909.1 1972.1L912.0 1972.7L914.9 1973.4L917.9 1974.0L920.8 1974.6L923.8 1975.2L926.7 1975.8L929.6 1976.4L932.6 1976.9L935.5 1977.5L938.5 1978.1L941.4 1978.7L944.3 1979.3L947.3 1979.9L950.2 1980.5L953.2 1981.0L956.1 1981.6L959.1 1982.2L962.0 1982.8L965.0 1983.3L967.9 1983.9L970.8 1984.5L973.8 1985.1L976.7 1985.6L979.7 1986.2L982.6 1986.7L985.6 1987.3L988.5 1987.9L991.5 1988.4L994.4 1989.0L997.4 1989.5L1000.3 1990.1L1003.3 1990.6L1006.2 1991.2L1009.2 1991.7L1012.1 1992.2L1015.1 1992.8L1018.0 1993.3L1021.0 1993.9L1023.9 1994.4L1026.9 1994.9L1029.8 1995.4L1032.8 1996.0L1035.8 1996.5L1038.7 1997.0L1041.7 1997.5L1044.6 1998.1L1047.6 1998.6L1050.5 1999.1L1053.5 1999.6L1056.4 2000.1L1059.4 2000.6L1062.4 2001.1L1065.3 2001.7L1068.3 2002.2L1071.2 2002.7L1074.2 2003.2L1077.1 2003.7L1080.1 2004.2L1083.1 2004.7L1086.0 2005.1L1089.0 2005.6L1091.9 2006.1L1094.9 2006.6L1097.9 2007.1L1100.8 2007.6L1103.8 2008.1L1106.8 2008.5L1109.7 2009.0L1112.7 2009.5L1115.6 2010.0L1118.6 2010.4L1121.6 2010.9L1124.5 2011.4L1127.5 2011.9L1130.5 2012.3L1133.4 2012.8L1136.4 2013.2L1139.4 2013.7L1142.3 2014.2L1145.3 2014.6L1148.3 2015.1L1151.2 2015.5L1154.2 2016.0L1157.2 2016.4L1160.1 2016.9L1163.1 2017.3L1166.1 2017.8L1169.0 2018.2L1172.0 2018.6L1175.0 2019.1L1177.9 2019.5L1180.9 2019.9L1183.9 2020.4L1186.8 2020.8L1189.8 2021.2L1192.8 2021.6L1195.8 2022.1L1198.7 2022.5L1201.7 2022.9L1204.7 2023.3L1207.6 2023.7L1210.6 2024.2L1213.6 2024.6L1216.6 2025.0L1219.5 2025.4L1222.5 2025.8L1225.5 2026.2L1228.4 2026.6L1231.4 2027.0L1234.4 2027.4L1237.4 2027.8L1240.3 2028.2L1243.3 2028.6L1246.3 2029.0L1249.3 2029.4L1252.2 2029.8L1255.2 2030.2L1258.2 2030.5L1261.2 2030.9L1264.1 2031.3L1267.1 2031.7L1270.1 2032.1L1273.1 2032.4L1276.0 2032.8L1279.0 2033.2L1282.0 2033.5L1285.0 2033.9L1287.9 2034.3L1290.9 2034.6L1293.9 2035.0L1296.9 2035.4L1299.9 2035.7L1302.8 2036.1L1305.8 2036.4L1308.8 2036.8L1311.8 2037.1L1314.7 2037.5L1317.7 2037.8L1320.7 2038.2L1323.7 2038.5L1326.7 2038.9L1329.6 2039.2L1332.6 2039.6L1335.6 2039.9L1338.6 2040.2L1341.6 2040.6L1344.5 2040.9L1347.5 2041.2L1350.5 2041.6L1353.5 2041.9L1356.5 2042.2L1359.4 2042.5L1362.4 2042.8L1365.4 2043.2L1368.4 2043.5L1371.4 2043.8L1374.3 2044.1L1377.3 2044.4L1380.3 2044.7L1383.3 2045.0L1386.3 2045.4L1389.2 2045.7L1392.2 2046.0L1395.2 2046.3L1398.2 2046.6L1401.2 2046.9L1404.2 2047.2L1407.1 2047.5L1410.1 2047.8L1413.1 2048.1L1416.1 2048.4L1419.1 2048.7L1422.0 2049.0L1425.0 2049.3L1428.0 2049.6L1431.0 2050.0L1434.0 2050.3L1436.9 2050.6L1439.9 2050.9L1442.9 2051.2L1445.9 2051.5L1448.9 2051.8L1451.8 2052.2L1454.8 2052.5L1457.8 2052.8L1460.8 2053.1L1463.8 2053.5L1466.7 2053.8L1469.7 2054.1L1472.7 2054.5L1475.7 2054.8L1478.6 2055.2L1481.6 2055.5L1484.6 2055.9L1487.6 2056.2L1490.5 2056.6L1493.5 2056.9L1496.5 2057.3L1499.5 2057.7L1502.4 2058.0L1505.4 2058.4L1508.4 2058.8L1511.3 2059.2L1514.3 2059.6L1517.3 2060.0L1520.3 2060.4L1523.2 2060.8L1526.2 2061.2L1529.2 2061.6L1532.1 2062.0L1535.1 2062.5L1538.1 2062.9L1541.0 2063.3L1544.0 2063.8L1547.0 2064.2L1549.9 2064.7L1552.9 2065.2L1555.8 2065.6L1558.8 2066.1L1561.8 2066.6L1564.7 2067.1L1567.7 2067.6L1570.6 2068.1L1573.6 2068.6L1576.6 2069.2L1579.5 2069.7L1582.5 2070.2L1585.4 2070.8L1588.4 2071.3L1591.3 2071.9L1594.3 2072.5L1597.2 2073.0L1600.2 2073.6L1603.1 2074.2L1606.1 2074.8L1609.0 2075.5L1612.0 2076.1L1614.9 2076.7L1617.8 2077.4L1620.8 2078.0L1623.7 2078.7L1626.7 2079.4L1629.6 2080.0L1632.5 2080.7L1635.5 2081.4L1638.4 2082.2L1641.3 2082.9L1644.3 2083.6L1647.2 2084.4L1650.1 2085.1L1653.1 2085.9L1656.0 2086.7L1658.9 2087.5L1661.9 2088.3L1664.8 2089.1L1667.7 2089.9L1670.6 2090.7L1673.5 2091.6L1676.5 2092.5L1679.4 2093.3L1682.3 2094.2L1685.2 2095.1L1688.1 2096.0L1691.0 2097.0L1693.9 2097.9L1696.8 2098.9L1699.7 2099.9L1702.6 2100.8L1705.5 2101.9L1708.3 2102.9L1711.2 2103.9L1714.0 2105.0L1716.9 2106.1L1719.7 2107.2L1722.5 2108.3L1725.3 2109.4L1728.1 2110.6L1730.9 2111.8L1733.7 2113.0L1736.4 2114.2L1739.1 2115.4L1741.8 2116.7L1744.5 2118.0L1747.2 2119.3L1749.9 2120.6L1752.5 2122.0L1755.1 2123.4L1757.7 2124.8L1760.3 2126.3L1762.9 2127.7L1765.4 2129.2L1767.9 2130.7L1770.4 2132.3L1772.9 2133.9L1775.3 2135.5L1777.7 2137.1L1780.1 2138.8L1782.4 2140.5L1784.8 2142.2L1787.0 2144.0L1789.3 2145.8L1791.5 2147.6L1793.7 2149.5L1795.9 2151.4L1798.1 2153.3L1800.2 2155.2L1802.2 2157.2L1804.3 2159.3L1806.3 2161.3L1808.2 2163.4L1810.2 2165.6L1812.1 2167.7L1814.0 2169.9L1815.8 2172.1L1817.6 2174.4L1819.4 2176.7L1821.1 2179.0L1822.9 2181.3L1824.6 2183.7L1826.2 2186.1L1827.8 2188.5L1829.4 2191.0L1831.0 2193.4L1832.6 2195.9L1834.1 2198.5L1835.6 2201.0L1837.0 2203.6L1838.5 2206.2L1839.9 2208.8L1841.3 2211.4L1842.7 2214.1L1844.0 2216.8L1845.3 2219.5L1846.6 2222.2L1847.9 2224.9L1849.1 2227.7L1850.3 2230.4L1851.5 2233.2L1852.7 2236.0L1853.9 2238.8L1855.0 2241.7L1856.1 2244.5L1857.2 2247.4L1858.3 2250.2L1859.3 2253.1L1860.3 2256.0L1861.4 2258.9L1862.4 2261.8L1863.3 2264.8L1864.3 2267.7L1865.2 2270.7L1866.2 2273.6L1867.1 2276.6L1868.0 2279.5L1868.8 2282.5L1869.7 2285.5L1870.5 2288.5L1871.4 2291.5L1872.2 2294.5L1873.0 2297.5L1873.8 2300.5L1874.5 2303.5L1875.3 2306.5L1876.1 2309.5L1876.8 2312.5L1877.5 2315.5L1878.2 2318.5L1878.9 2321.5L1879.6 2324.5L1880.3 2327.5L1881.0 2330.5L1881.6 2333.5L1882.3 2336.5L1882.9 2339.5L1883.6 2342.4L1884.2 2345.4L1884.8 2348.4L1885.4 2351.3L1886.0 2354.3L1886.6 2357.3L1887.2 2360.2L1887.8 2363.1L1888.4 2366.1L1888.9 2369.0L1889.5 2372.0L1890.0 2374.9L1890.6 2377.8L1891.1 2380.7L1891.6 2383.7L1892.1 2386.6L1892.7 2389.5L1893.2 2392.4L1893.6 2395.3L1894.1 2398.2L1894.6 2401.1L1895.1 2404.1L1895.5 2407.0L1896.0 2409.9L1896.4 2412.8L1896.9 2415.7L1897.3 2418.6L1897.7 2421.5L1898.2 2424.4L1898.6 2427.3L1899.0 2430.3L1899.4 2433.2L1899.8 2436.1L1900.1 2439.0L1900.5 2441.9L1900.9 2444.9L1901.2 2447.8L1901.6 2450.7L1901.9 2453.7L1902.3 2456.6L1902.6 2459.5L1902.9 2462.5L1903.2 2465.4L1903.5 2468.4L1903.8 2471.4L1904.1 2474.3L1904.4 2477.3L1904.7 2480.3L1905.0 2483.2L1905.3 2486.2L1905.5 2489.2L1905.8 2492.2L1906.0 2495.2L1906.2 2498.3L1906.5 2501.3L1906.7 2504.3L1906.9 2507.3L1907.1 2510.4L1907.3 2513.4L1907.5 2516.5L1907.6 2517.4L1912.5 2321.8" stroke="#3366ff"/>
<path d="M240.0 1627.4L245.0 1628.0L245.1 1631.5L245.3 1634.9L245.4 1638.4L245.6 1641.8L245.7 1645.3L245.9 1648.7L246.0 1652.2L246.1 1655.7L246.3 1659.2L246.4 1662.7L246.5 1666.4L246.6 1670.2L246.8 1674.0L246.9 1677.8L247.0 1681.6L247.1 1685.4L247.2 1689.2L247.3 1693.0L247.5 1696.7L247.6 1700.3L247.7 1703.6L247.9 1706.9L248.0 1710.2L248.1 1713.4L248.3 1716.7L248.4 1719.8L248.6 1722.9L248.8 1725.9L249.0 1728.8L249.2 1731.6L249.4 1733.7L249.5 1735.6L249.7 1737.6L249.8 1739.5L250.0 1741.3L250.2 1743.1L250.4 1744.8L250.7 1746.6L251.1 1748.3L251.5 1750.0L252.0 1751.6L252.5 1753.1L253.0 1754.6L253.6 1756.1L254.2 1757.5L254.9 1758.9L255.6 1760.3L256.4 1761.7L257.2 1763.1L258.0 1764.5L258.9 1765.9L259.9 1767.3L260.9 1768.7L261.9 1770.1L263.0 1771.4L264.2 1772.7L265.3 1774.0L266.5 1775.3L267.7 1776.6L268.9 1777.9L270.2 1779.2L271.5 1780.5L272.8 1781.8L274.1 1783.1L275.5 1784.4L276.9 1785.6L278.3 1786.8L279.7 1788.0L281.1 1789.2L282.5 1790.3L283.8 1791.3L285.1 1792.3L286.4 1793.3L287.7 1794.2L289.0 1795.1L290.3 1796.0L291.6 1796.9L293.1 1797.8L294.5 1798.7L296.1 1799.7L298.3 1801.1L300.7 1802.5L303.2 1803.9L305.8 1805.4L308.4 1806.9L311.1 1808.4L313.8 1809.8L316.6 1811.3L319.3 1812.7L321.9 1814.0L324.7 1815.2L327.4 1816.4L330.2 1817.5L332.9 1818.7L335.7 1819.9L338.5 1821.0L341.2 1822.2L344.0 1823.3L346.8 1824.5L349.5 1825.6L352.3 1826.8L355.1 1827.9L357.9 1829.1L360.6 1830.2L363.4 1831.3L366.2 1832.5L369.0 1833.6L371.7 1834.7L374.5 1835.9L377.3 1837.0L380.1 1838.1L382.9 1839.2L385.7 1840.3L388.4 1841.4L391.2 1842.5L394.0 1843.7L396.8 1844.8L399.6 1845.9L402.4 1847.0L405.2 1848.0L408.0 1849.1L410.8 1850.2L413.6 1851.3L416.4 1852.4L419.2 1853.5L422.0 1854.5L424.8 1855.6L427.6 1856.7L430.4 1857.8L433.2 1858.8L436.0 1859.9L438.8 1860.9L441.6 1862.0L444.4 1863.1L447.2 1864.1L450.0 1865.2L452.8 1866.2L455.6 1867.3L458.4 1868.3L461.3 1869.3L464.1 1870.4L466.9 1871.4L469.7 1872.4L472.5 1873.5L475.3 1874.5L478.2 1875.5L481.0 1876.5L483.8 1877.5L486.6 1878.5L489.4 1879.6L492.3 1880.6L495.1 1881.6L497.9 1882.6L500.7 1883.6L503.6 1884.6L506.4 1885.6L509.2 1886.5L512.1 1887.5L514.9 1888.5L517.7 1889.5L520.6 1890.5L523.4 1891.5L526.2 1892.4L529.1 1893.4L531.9 1894.4L534.8 1895.3L537.6 1896.3L540.4 1897.3L543.3 1898.2L546.1 1899.2L549.0 1900.1L551.8 1901.1L554.6 1902.0L557.5 1903.0L560.3 1903.9L563.2 1904.9L566.0 1905.8L568.9 1906.7L571.7 1907.7L574.6 1908.6L577.4 1909.5L580.3 1910.4L583.2 1911.4L586.0 1912.3L588.9 1913.2L591.7 1914.1L594.6 1915.0L597.4 1915.9L600.3 1916.8L603.2 1917.7L606.0 1918.6L608.9 1919.5L611.7 1920.4L614.6 1921.3L617.5 1922.2L620.3 1923.1L623.2 1924.0L626.1 1924.9L628.9 1925.7L631.8 1926.6L634.7 1927.5L637.5 1928.3L640.4 1929.2L643.3 1930.1L646.2 1930.9L649.0 1931.8L651.9 1932.7L654.8 1933.5L657.7 1934.4L660.5 1935.2L663.4 1936.1L666.3 1936.9L669.2 1937.8L672.1 1938.6L674.9 1939.4L677.8 1940.3L680.7 1941.1L683.6 1941.9L686.5 1942.7L689.4 1943.6L692.2 1944.4L695.1 1945.2L698.0 1946.0L700.9 1946.8L703.8 1947.7L706.7 1948.5L709.6 1949.3L712.5 1950.1L715.3 1950.9L718.2 1951.7L721.1 1952.5L724.0 1953.3L726.9 1954.0L729.8 1954.8L732.7 1955.6L735.6 1956.4L738.5 1957.2L741.4 1958.0L744.3 1958.7L747.2 1959.5L750.1 1960.3L753.0 1961.0L755.9 1961.8L758.8 1962.6L761.7 1963.3L764.6 1964.1L767.5 1964.8L770.4 1965.6L773.3 1966.3L776.2 1967.1L779.1 1967.8L782.0 1968.6L784.9 1969.3L787.9 1970.1L790.8 1970.8L793.7 1971.5L796.6 1972.3L799.5 1973.0L802.4 1973.7L805.3 1974.4L808.2 1975.1L811.1 1975.9L814.1 1976.6L817.0 1977.3L819.9 1978.0L822.8 1978.7L825.7 1979.4L828.6 1980.1L831.6 1980.8L834.5 1981.5L837.4 1982.2L840.3 1982.9L843.2 1983.6L846.2 1984.3L849.1 1985.0L852.0 1985.6L854.9 1986.3L857.9 1987.0L860.8 1987.7L863.7 1988.4L866.6 1989.0L869.5 1989.7L872.5 1990.4L875.4 1991.0L878.3 1991.7L881.3 1992.3L884.2 1993.0L887.1 1993.6L890.0 1994.3L893.0 1994.9L895.9 1995.6L898.8 1996.2L901.8 1996.9L904.7 1997.5L907.6 1998.2L910.6 1998.8L913.5 1999.4L916.4 2000.1L919.4 2000.7L922.3 2001.3L925.2 2001.9L928.2 2002.5L931.1 2003.2L934.0 2003.8L937.0 2004.4L939.9 2005.0L942.9 2005.6L945.8 2006.2L948.7 2006.8L951.7 2007.4L954.6 2008.0L957.6 2008.6L960.5 2009.2L963.4 2009.8L966.4 2010.4L969.3 2011.0L972.3 2011.6L975.2 2012.1L978.2 2012.7L981.1 2013.3L984.0 2013.9L987.0 2014.4L989.9 2015.0L992.9 2015.6L995.8 2016.1L998.8 2016.7L1001.7 2017.3L1004.7 2017.8L1007.6 2018.4L1010.6 2018.9L1013.5 2019.5L1016.5 2020.0L1019.4 2020.6L1022.4 2021.1L1025.3 2021.7L1028.3 2022.2L1031.2 2022.8L1034.2 2023.3L1037.1 2023.8L1040.1 2024.4L1043.0 2024.9L1046.0 2025.4L1048.9 2025.9L1051.9 2026.5L1054.8 2027.0L1057.8 2027.5L1060.7 2028.0L1063.7 2028.5L1066.7 2029.0L1069.6 2029.5L1072.6 2030.0L1075.5 2030.5L1078.5 2031.0L1081.4 2031.5L1084.4 2032.0L1087.4 2032.5L1090.3 2033.0L1093.3 2033.5L1096.2 2034.0L1099.2 2034.5L1102.1 2035.0L1105.1 2035.5L1108.1 2035.9L1111.0 2036.4L1114.0 2036.9L1116.9 2037.4L1119.9 2037.8L1122.9 2038.3L1125.8 2038.8L1128.8 2039.2L1131.8 2039.7L1134.7 2040.1L1137.7 2040.6L1140.6 2041.0L1143.6 2041.5L1146.6 2042.0L1149.5 2042.4L1152.5 2042.8L1155.5 2043.3L1158.4 2043.7L1161.4 2044.2L1164.4 2044.6L1167.3 2045.0L1170.3 2045.5L1173.3 2045.9L1176.2 2046.3L1179.2 2046.8L1182.2 2047.2L1185.1 2047.6L1188.1 2048.0L1191.1 2048.4L1194.0 2048.8L1197.0 2049.3L1200.0 2049.7L1202.9 2050.1L1205.9 2050.5L1208.9 2050.9L1211.8 2051.3L1214.8 2051.7L1217.8 2052.1L1220.7 2052.5L1223.7 2052.9L1226.7 2053.3L1229.6 2053.7L1232.6 2054.0L1235.6 2054.4L1238.5 2054.8L1241.5 2055.2L1244.5 2055.6L1247.5 2056.0L1250.4 2056.3L1253.4 2056.7L1256.4 2057.1L1259.3 2057.5L1262.3 2057.9L1265.3 2058.3L1268.2 2058.6L1271.2 2059.0L1274.2 2059.4L1277.1 2059.8L1280.1 2060.2L1283.1 2060.6L1286.1 2060.9L1289.0 2061.3L1292.0 2061.7L1295.0 2062.1L1297.9 2062.5L1300.9 2062.9L1303.9 2063.3L1306.8 2063.7L1309.8 2064.1L1312.8 2064.5L1315.7 2064.9L1318.7 2065.3L1321.7 2065.7L1324.6 2066.2L1327.6 2066.6L1330.6 2067.0L1333.5 2067.4L1336.5 2067.9L1339.5 2068.3L1342.4 2068.7L1345.4 2069.2L1348.4 2069.6L1351.3 2070.1L1354.3 2070.5L1357.2 2071.0L1360.2 2071.5L1363.2 2071.9L1366.1 2072.4L1369.1 2072.9L1372.1 2073.4L1375.0 2073.9L1378.0 2074.4L1380.9 2074.9L1383.9 2075.4L1386.8 2075.9L1389.8 2076.4L1392.8 2076.9L1395.7 2077.5L1398.7 2078.0L1401.6 2078.6L1404.6 2079.1L1407.5 2079.7L1410.5 2080.3L1413.4 2080.8L1416.4 2081.4L1419.3 2082.0L1422.3 2082.6L1425.2 2083.2L1428.2 2083.9L1431.1 2084.5L1434.1 2085.1L1437.0 2085.8L1440.0 2086.4L1442.9 2087.1L1445.9 2087.7L1448.8 2088.4L1451.8 2089.1L1454.7 2089.8L1457.6 2090.5L1460.6 2091.2L1463.5 2092.0L1466.5 2092.7L1469.4 2093.5L1472.3 2094.2L1475.3 2095.0L1478.2 2095.8L1481.1 2096.6L1484.1 2097.4L1487.0 2098.2L1489.9 2099.0L1492.8 2099.9L1495.8 2100.7L1498.7 2101.6L1501.6 2102.5L1504.5 2103.4L1507.4 2104.3L1510.3 2105.2L1513.2 2106.1L1516.1 2107.1L1519.0 2108.1L1521.8 2109.1L1524.7 2110.1L1527.5 2111.1L1530.4 2112.1L1533.2 2113.2L1536.0 2114.2L1538.9 2115.3L1541.7 2116.4L1544.5 2117.6L1547.2 2118.7L1550.0 2119.9L1552.8 2121.0L1555.5 2122.3L1558.2 2123.5L1561.0 2124.7L1563.7 2126.0L1566.4 2127.3L1569.0 2128.6L1571.7 2129.9L1574.3 2131.3L1577.0 2132.7L1579.6 2134.1L1582.2 2135.5L1584.7 2136.9L1587.3 2138.4L1589.8 2139.9L1592.3 2141.4L1594.8 2143.0L1597.3 2144.5L1599.8 2146.1L1602.2 2147.8L1604.6 2149.4L1607.0 2151.1L1609.4 2152.8L1611.8 2154.6L1614.1 2156.3L1616.4 2158.1L1618.7 2159.9L1620.9 2161.8L1623.1 2163.7L1625.3 2165.6L1627.5 2167.5L1629.7 2169.5L1631.8 2171.5L1633.9 2173.5L1636.0 2175.6L1638.0 2177.6L1640.1 2179.8L1642.1 2181.9L1644.0 2184.1L1646.0 2186.2L1647.9 2188.5L1649.8 2190.7L1651.7 2193.0L1653.6 2195.2L1655.4 2197.6L1657.2 2199.9L1659.0 2202.2L1660.8 2204.6L1662.5 2207.0L1664.2 2209.4L1665.9 2211.9L1667.6 2214.4L1669.3 2216.8L1670.9 2219.3L1672.5 2221.9L1674.1 2224.4L1675.6 2227.0L1677.2 2229.5L1678.7 2232.1L1680.2 2234.7L1681.7 2237.4L1683.1 2240.0L1684.6 2242.7L1686.0 2245.3L1687.4 2248.0L1688.7 2250.7L1690.1 2253.5L1691.4 2256.2L1692.7 2258.9L1694.0 2261.7L1695.3 2264.4L1696.6 2267.2L1697.8 2270.0L1699.0 2272.8L1700.2 2275.6L1701.4 2278.4L1702.5 2281.3L1703.6 2284.1L1704.8 2287.0L1705.9 2289.8L1706.9 2292.7L1708.0 2295.5L1709.0 2298.4L1710.1 2301.3L1711.1 2304.2L1712.1 2307.1L1713.0 2310.0L1714.0 2312.9L1714.9 2315.8L1715.8 2318.7L1716.7 2321.6L1717.6 2324.5L1718.5 2327.4L1719.3 2330.4L1720.2 2333.3L1721.0 2336.2L1721.8 2339.1L1722.6 2342.1L1723.3 2345.0L1724.1 2347.9L1724.9 2350.9L1725.6 2353.8L1726.3 2356.7L1727.0 2359.7L1727.7 2362.6L1728.4 2365.6L1729.1 2368.5L1729.7 2371.5L1730.4 2374.4L1731.0 2377.4L1731.7 2380.3L1732.3 2383.3L1732.9 2386.2L1733.5 2389.2L1734.1 2392.1L1734.7 2395.1L1735.3 2398.1L1735.8 2401.0L1736.4 2404.0L1736.9 2406.9L1737.5 2409.9L1738.0 2412.8L1738.6 2415.8L1739.1 2418.8L1739.6 2421.7L1740.2 2424.7L1740.7 2427.6L1741.2 2430.6L1741.7 2433.5L1742.2 2436.5L1742.7 2439.4L1743.2 2442.4L1743.7 2445.3L1744.2 2448.3L1744.7 2451.2L1745.2 2454.2L1745.7 2457.1L1746.2 2460.1L1746.6 2463.0L1747.1 2465.9L1747.6 2468.9L1748.1 2471.8L1748.6 2474.7L1749.1 2477.7L1749.6 2480.6L1750.1 2483.5L1750.6 2486.4L1751.1 2489.4L1751.6 2492.3L1752.1 2495.2L1752.6 2498.1L1753.1 2501.0L1753.7 2503.9L1754.2 2506.8L1754.4 2508.0L1759.4 2304.6" stroke="#00c000"/>
<path d="M240.0 1627.4L245.0 1628.0L245.1 1631.5L245.3 1634.9L245.4 1638.4L245.6 1641.8L245.7 1645.3L245.9 1648.7L246.0 1652.2L246.1 1655.7L246.3 1659.2L246.4 1662.7L246.5 1666.4L246.6 1670.2L246.8 1674.0L246.9 1677.8L247.0 1681.6L247.1 1685.4L247.2 1689.2L247.3 1693.0L247.5 1696.7L247.6 1700.3L247.7 1703.6L247.9 1706.8L248.0 1710.1L248.2 1713.3L248.3 1716.5L248.5 1719.6L248.6 1722.7L248.8 1725.8L248.9 1728.7L249.1 1731.6L249.2 1733.9L249.3 1736.2L249.4 1738.4L249.4 1740.5L249.5 1742.7L249.6 1744.8L249.7 1746.9L249.9 1748.9L250.2 1751.0L250.5 1753.0L250.9 1754.9L251.3 1756.8L251.8 1758.7L252.3 1760.6L252.9 1762.5L253.5 1764.3L254.2 1766.2L254.9 1768.0L255.7 1769.7L256.5 1771.5L257.4 1773.3L258.5 1775.1L259.6 1776.9L260.7 1778.6L261.9 1780.4L263.2 1782.1L264.5 1783.7L265.8 1785.4L267.1 1787.0L268.4 1788.6L269.7 1790.1L271.0 1791.6L272.3 1793.0L273.7 1794.4L275.1 1795.8L276.5 1797.2L277.9 1798.5L279.3 1799.8L280.7 1801.1L282.1 1802.4L283.4 1803.6L284.6 1804.7L285.9 1805.7L287.1 1806.8L288.4 1807.8L289.7 1808.8L291.0 1809.8L292.4 1810.9L293.9 1812.0L295.4 1813.1L297.6 1814.7L300.0 1816.4L302.5 1818.1L305.1 1819.8L307.8 1821.6L310.5 1823.4L313.3 1825.1L316.0 1826.8L318.7 1828.4L321.4 1830.0L324.1 1831.3L326.8 1832.5L329.5 1833.8L332.2 1835.0L334.9 1836.3L337.7 1837.5L340.4 1838.7L343.1 1840.0L345.8 1841.2L348.5 1842.5L351.2 1843.7L354.0 1844.9L356.7 1846.1L359.4 1847.4L362.2 1848.6L364.9 1849.8L367.6 1851.1L370.3 1852.3L373.1 1853.5L375.8 1854.7L378.6 1855.9L381.3 1857.1L384.0 1858.3L386.8 1859.5L389.5 1860.8L392.3 1862.0L395.0 1863.2L397.8 1864.4L400.5 1865.6L403.3 1866.7L406.0 1867.9L408.8 1869.1L411.5 1870.3L414.3 1871.5L417.0 1872.7L419.8 1873.9L422.5 1875.0L425.3 1876.2L428.1 1877.4L430.8 1878.6L433.6 1879.7L436.4 1880.9L439.1 1882.1L441.9 1883.2L444.7 1884.4L447.5 1885.5L450.2 1886.7L453.0 1887.8L455.8 1889.0L458.6 1890.1L461.3 1891.3L464.1 1892.4L466.9 1893.6L469.7 1894.7L472.5 1895.8L475.3 1897.0L478.1 1898.1L480.8 1899.2L483.6 1900.3L486.4 1901.5L489.2 1902.6L492.0 1903.7L494.8 1904.8L497.6 1905.9L500.4 1907.0L503.2 1908.1L506.0 1909.2L508.8 1910.3L511.6 1911.4L514.4 1912.5L517.2 1913.6L520.0 1914.7L522.8 1915.8L525.6 1916.8L528.4 1917.9L531.3 1919.0L534.1 1920.1L536.9 1921.1L539.7 1922.2L542.5 1923.3L545.3 1924.3L548.2 1925.4L551.0 1926.4L553.8 1927.5L556.6 1928.5L559.4 1929.6L562.3 1930.6L565.1 1931.6L567.9 1932.7L570.7 1933.7L573.6 1934.7L576.4 1935.8L579.2 1936.8L582.1 1937.8L584.9 1938.8L587.7 1939.8L590.6 1940.8L593.4 1941.8L596.2 1942.8L599.1 1943.8L601.9 1944.8L604.7 1945.8L607.6 1946.8L610.4 1947.8L613.3 1948.8L616.1 1949.8L619.0 1950.7L621.8 1951.7L624.6 1952.7L627.5 1953.6L630.3 1954.6L633.2 1955.5L636.0 1956.5L638.9 1957.4L641.7 1958.4L644.6 1959.3L647.4 1960.3L650.3 1961.2L653.2 1962.1L656.0 1963.1L658.9 1964.0L661.7 1964.9L664.6 1965.8L667.5 1966.7L670.3 1967.7L673.2 1968.6L676.0 1969.5L678.9 1970.4L681.8 1971.3L684.6 1972.1L687.5 1973.0L690.4 1973.9L693.2 1974.8L696.1 1975.7L699.0 1976.5L701.8 1977.4L704.7 1978.3L707.6 1979.1L710.4 1980.0L713.3 1980.8L716.2 1981.7L719.1 1982.5L721.9 1983.4L724.8 1984.2L727.7 1985.0L730.6 1985.9L733.5 1986.7L736.3 1987.5L739.2 1988.3L742.1 1989.1L745.0 1989.9L747.9 1990.7L750.7 1991.5L753.6 1992.3L756.5 1993.1L759.4 1993.9L762.3 1994.7L765.2 1995.5L768.0 1996.3L770.9 1997.0L773.8 1997.8L776.7 1998.6L779.6 1999.3L782.5 2000.1L785.4 2000.9L788.3 2001.6L791.2 2002.4L794.1 2003.1L797.0 2003.9L799.9 2004.6L802.7 2005.3L805.6 2006.1L808.5 2006.8L811.4 2007.5L814.3 2008.3L817.2 2009.0L820.1 2009.7L823.0 2010.4L825.9 2011.1L828.8 2011.8L831.7 2012.6L834.6 2013.3L837.5 2014.0L840.4 2014.7L843.4 2015.4L846.3 2016.1L849.2 2016.7L852.1 2017.4L855.0 2018.1L857.9 2018.8L860.8 2019.5L863.7 2020.2L866.6 2020.8L869.5 2021.5L872.4 2022.2L875.4 2022.8L878.3 2023.5L881.2 2024.2L884.1 2024.8L887.0 2025.5L889.9 2026.1L892.8 2026.8L895.8 2027.4L898.7 2028.1L901.6 2028.7L904.5 2029.4L907.4 2030.0L910.3 2030.7L913.3 2031.3L916.2 2031.9L919.1 2032.6L922.0 2033.2L925.0 2033.8L927.9 2034.5L930.8 2035.1L933.7 2035.7L936.7 2036.3L939.6 2036.9L942.5 2037.6L945.4 2038.2L948.4 2038.8L951.3 2039.4L954.2 2040.0L957.2 2040.6L960.1 2041.2L963.0 2041.8L965.9 2042.4L968.9 2043.0L971.8 2043.6L974.7 2044.2L977.7 2044.8L980.6 2045.4L983.5 2046.0L986.5 2046.6L989.4 2047.2L992.4 2047.8L995.3 2048.4L998.2 2049.0L1001.2 2049.6L1004.1 2050.2L1007.1 2050.7L1010.0 2051.3L1012.9 2051.9L1015.9 2052.5L1018.8 2053.1L1021.8 2053.6L1024.7 2054.2L1027.6 2054.8L1030.6 2055.4L1033.5 2055.9L1036.5 2056.5L1039.4 2057.1L1042.4 2057.7L1045.3 2058.2L1048.3 2058.8L1051.2 2059.4L1054.2 2059.9L1057.1 2060.5L1060.1 2061.1L1063.0 2061.6L1066.0 2062.2L1068.9 2062.8L1071.9 2063.3L1074.8 2063.9L1077.8 2064.5L1080.7 2065.0L1083.7 2065.6L1086.6 2066.1L1089.6 2066.7L1092.6 2067.3L1095.5 2067.8L1098.5 2068.4L1101.4 2068.9L1104.4 2069.5L1107.3 2070.1L1110.3 2070.6L1113.3 2071.2L1116.2 2071.7L1119.2 2072.3L1122.1 2072.8L1125.1 2073.4L1128.1 2074.0L1131.0 2074.5L1134.0 2075.1L1136.9 2075.6L1139.9 2076.2L1142.9 2076.7L1145.8 2077.3L1148.8 2077.9L1151.8 2078.4L1154.7 2079.0L1157.7 2079.5L1160.7 2080.1L1163.6 2080.6L1166.6 2081.2L1169.6 2081.8L1172.6 2082.3L1175.5 2082.9L1178.5 2083.4L1181.5 2084.0L1184.4 2084.6L1187.4 2085.1L1190.4 2085.7L1193.3 2086.2L1196.3 2086.8L1199.3 2087.4L1202.3 2087.9L1205.2 2088.5L1208.2 2089.1L1211.2 2089.6L1214.2 2090.2L1217.1 2090.8L1220.1 2091.3L1223.1 2091.9L1226.1 2092.5L1229.1 2093.1L1232.0 2093.6L1235.0 2094.2L1238.0 2094.8L1241.0 2095.4L1243.9 2096.0L1246.9 2096.6L1249.9 2097.2L1252.8 2097.8L1255.8 2098.4L1258.8 2099.0L1261.7 2099.6L1264.7 2100.2L1267.6 2100.9L1270.6 2101.5L1273.6 2102.2L1276.5 2102.8L1279.4 2103.5L1282.4 2104.2L1285.3 2104.9L1288.3 2105.6L1291.2 2106.3L1294.1 2107.0L1297.0 2107.7L1299.9 2108.4L1302.8 2109.2L1305.7 2110.0L1308.6 2110.7L1311.5 2111.5L1314.4 2112.3L1317.3 2113.1L1320.2 2114.0L1323.0 2114.8L1325.9 2115.7L1328.8 2116.5L1331.6 2117.4L1334.4 2118.3L1337.3 2119.3L1340.1 2120.2L1342.9 2121.2L1345.7 2122.1L1348.5 2123.1L1351.3 2124.1L1354.1 2125.2L1356.9 2126.2L1359.7 2127.3L1362.4 2128.4L1365.2 2129.5L1367.9 2130.6L1370.6 2131.7L1373.3 2132.9L1376.1 2134.1L1378.8 2135.3L1381.4 2136.6L1384.1 2137.8L1386.8 2139.1L1389.4 2140.4L1392.1 2141.7L1394.7 2143.1L1397.3 2144.5L1399.9 2145.9L1402.5 2147.3L1405.1 2148.8L1407.7 2150.2L1410.3 2151.7L1412.8 2153.2L1415.3 2154.8L1417.9 2156.4L1420.4 2157.9L1422.9 2159.6L1425.3 2161.2L1427.8 2162.9L1430.2 2164.5L1432.7 2166.2L1435.1 2168.0L1437.5 2169.7L1439.9 2171.5L1442.3 2173.3L1444.6 2175.1L1447.0 2176.9L1449.3 2178.8L1451.6 2180.6L1453.9 2182.5L1456.2 2184.5L1458.4 2186.4L1460.7 2188.4L1462.9 2190.3L1465.1 2192.3L1467.3 2194.4L1469.4 2196.4L1471.6 2198.5L1473.7 2200.5L1475.8 2202.6L1477.9 2204.8L1480.0 2206.9L1482.1 2209.1L1484.1 2211.2L1486.1 2213.4L1488.1 2215.6L1490.1 2217.9L1492.0 2220.1L1494.0 2222.4L1495.9 2224.7L1497.8 2227.0L1499.6 2229.3L1501.5 2231.7L1503.3 2234.0L1505.1 2236.4L1506.9 2238.8L1508.7 2241.2L1510.4 2243.6L1512.1 2246.1L1513.8 2248.6L1515.5 2251.0L1517.1 2253.5L1518.7 2256.1L1520.3 2258.6L1521.9 2261.1L1523.5 2263.7L1525.0 2266.3L1526.5 2268.8L1528.0 2271.4L1529.5 2274.1L1530.9 2276.7L1532.4 2279.3L1533.8 2282.0L1535.2 2284.7L1536.6 2287.3L1537.9 2290.0L1539.2 2292.7L1540.6 2295.4L1541.9 2298.2L1543.1 2300.9L1544.4 2303.6L1545.6 2306.4L1546.9 2309.2L1548.1 2311.9L1549.3 2314.7L1550.4 2317.5L1551.6 2320.3L1552.7 2323.1L1553.9 2325.9L1555.0 2328.8L1556.1 2331.6L1557.2 2334.4L1558.2 2337.3L1559.3 2340.1L1560.3 2343.0L1561.3 2345.8L1562.3 2348.7L1563.3 2351.6L1564.3 2354.4L1565.2 2357.3L1566.2 2360.2L1567.1 2363.1L1568.1 2366.0L1569.0 2368.9L1569.9 2371.8L1570.8 2374.7L1571.6 2377.6L1572.5 2380.5L1573.3 2383.4L1574.2 2386.3L1575.0 2389.2L1575.8 2392.1L1576.6 2395.0L1577.4 2397.9L1578.2 2400.8L1579.0 2403.8L1579.7 2406.7L1580.5 2409.6L1581.2 2412.5L1581.9 2415.5L1582.7 2418.4L1583.4 2421.3L1584.1 2424.2L1584.8 2427.2L1585.4 2430.1L1586.1 2433.0L1586.8 2436.0L1587.4 2438.9L1588.1 2441.8L1588.7 2444.8L1589.4 2447.7L1590.0 2450.6L1590.6 2453.5L1591.2 2456.5L1591.8 2459.4L1592.4 2462.3L1593.0 2465.2L1593.6 2468.2L1594.1 2471.1L1594.7 2474.0L1595.3 2476.9L1595.8 2479.9L1596.4 2482.8L1596.9 2485.7L1597.4 2488.6L1598.0 2491.5L1598.5 2494.4L1599.0 2497.3L1599.5 2500.2L1600.1 2503.1L1600.6 2506.0L1600.9 2508.0L1606.0 2304.6" stroke="#c033ff"/>
<path d="M240.0 1627.4L245.0 1628.0L245.1 1631.5L245.3 1634.9L245.4 1638.4L245.6 1641.8L245.7 1645.3L245.9 1648.7L246.0 1652.2L246.1 1655.7L246.3 1659.2L246.4 1662.7L246.5 1666.4L246.6 1670.2L246.8 1674.0L246.9 1677.8L247.0 1681.6L247.1 1685.4L247.2 1689.2L247.3 1693.0L247.5 1696.7L247.6 1700.3L247.7 1703.6L247.9 1706.8L248.0 1710.1L248.2 1713.3L248.3 1716.5L248.5 1719.6L248.7 1722.7L248.8 1725.8L249.0 1728.7L249.1 1731.6L249.2 1733.9L249.2 1736.2L249.3 1738.4L249.3 1740.6L249.3 1742.8L249.4 1744.9L249.5 1747.0L249.6 1749.0L249.9 1751.0L250.2 1753.0L250.6 1754.7L251.0 1756.3L251.5 1757.9L252.0 1759.5L252.5 1761.1L253.1 1762.6L253.7 1764.1L254.3 1765.6L254.9 1767.0L255.5 1768.5L256.1 1769.8L256.6 1771.1L257.2 1772.4L257.8 1773.7L258.3 1774.9L258.9 1776.2L259.6 1777.4L260.2 1778.6L260.8 1779.8L261.5 1781.0L262.1 1782.1L262.8 1783.2L263.4 1784.3L264.1 1785.3L264.8 1786.4L265.5 1787.4L266.2 1788.5L267.0 1789.5L267.8 1790.7L268.6 1791.8L269.7 1793.3L270.9 1795.0L272.2 1796.6L273.5 1798.4L274.8 1800.1L276.2 1801.8L277.6 1803.5L279.0 1805.2L280.4 1806.8L281.8 1808.3L283.1 1809.6L284.3 1810.9L285.6 1812.1L286.8 1813.2L288.1 1814.4L289.4 1815.5L290.7 1816.7L292.1 1817.8L293.6 1819.0L295.2 1820.2L297.4 1821.9L299.8 1823.6L302.3 1825.3L305.0 1827.1L307.7 1828.9L310.4 1830.7L313.2 1832.4L316.0 1834.1L318.7 1835.8L321.4 1837.4L324.1 1838.7L326.7 1840.0L329.4 1841.4L332.1 1842.7L334.8 1844.0L337.5 1845.3L340.1 1846.6L342.8 1847.9L345.5 1849.2L348.2 1850.5L350.9 1851.8L353.6 1853.1L356.3 1854.4L359.0 1855.7L361.6 1857.0L364.3 1858.3L367.0 1859.6L369.7 1860.9L372.4 1862.2L375.1 1863.5L377.9 1864.8L380.6 1866.0L383.3 1867.3L386.0 1868.6L388.7 1869.9L391.4 1871.1L394.1 1872.4L396.8 1873.7L399.5 1875.0L402.3 1876.2L405.0 1877.5L407.7 1878.8L410.4 1880.0L413.2 1881.3L415.9 1882.5L418.6 1883.8L421.3 1885.0L424.1 1886.3L426.8 1887.5L429.5 1888.8L432.3 1890.0L435.0 1891.3L437.8 1892.5L440.5 1893.7L443.2 1895.0L446.0 1896.2L448.7 1897.4L451.5 1898.7L454.2 1899.9L457.0 1901.1L459.7 1902.3L462.5 1903.5L465.2 1904.7L468.0 1906.0L470.7 1907.2L473.5 1908.4L476.2 1909.6L479.0 1910.8L481.8 1912.0L484.5 1913.2L487.3 1914.3L490.1 1915.5L492.8 1916.7L495.6 1917.9L498.4 1919.1L501.1 1920.3L503.9 1921.4L506.7 1922.6L509.5 1923.8L512.2 1924.9L515.0 1926.1L517.8 1927.2L520.6 1928.4L523.4 1929.5L526.1 1930.7L528.9 1931.8L531.7 1933.0L534.5 1934.1L537.3 1935.3L540.1 1936.4L542.9 1937.5L545.7 1938.6L548.5 1939.8L551.3 1940.9L554.0 1942.0L556.8 1943.1L559.6 1944.2L562.4 1945.3L565.2 1946.4L568.1 1947.5L570.9 1948.6L573.7 1949.7L576.5 1950.8L579.3 1951.9L582.1 1953.0L584.9 1954.0L587.7 1955.1L590.5 1956.2L593.3 1957.2L596.1 1958.3L599.0 1959.4L601.8 1960.4L604.6 1961.5L607.4 1962.5L610.2 1963.6L613.1 1964.6L615.9 1965.6L618.7 1966.7L621.5 1967.7L624.4 1968.7L627.2 1969.7L630.0 1970.7L632.9 1971.7L635.7 1972.8L638.5 1973.8L641.3 1974.8L644.2 1975.7L647.0 1976.7L649.9 1977.7L652.7 1978.7L655.5 1979.7L658.4 1980.6L661.2 1981.6L664.1 1982.6L666.9 1983.5L669.7 1984.5L672.6 1985.4L675.4 1986.4L678.3 1987.3L681.1 1988.3L684.0 1989.2L686.8 1990.1L689.7 1991.1L692.5 1992.0L695.4 1992.9L698.2 1993.8L701.1 1994.7L704.0 1995.6L706.8 1996.5L709.7 1997.4L712.5 1998.3L715.4 1999.2L718.3 2000.0L721.1 2000.9L724.0 2001.8L726.9 2002.6L729.7 2003.5L732.6 2004.3L735.5 2005.2L738.3 2006.0L741.2 2006.9L744.1 2007.7L746.9 2008.5L749.8 2009.4L752.7 2010.2L755.6 2011.0L758.4 2011.8L761.3 2012.6L764.2 2013.4L767.1 2014.2L769.9 2015.0L772.8 2015.8L775.7 2016.6L778.6 2017.4L781.5 2018.2L784.3 2019.0L787.2 2019.7L790.1 2020.5L793.0 2021.3L795.9 2022.0L798.8 2022.8L801.7 2023.6L804.5 2024.3L807.4 2025.1L810.3 2025.8L813.2 2026.5L816.1 2027.3L819.0 2028.0L821.9 2028.8L824.8 2029.5L827.7 2030.2L830.6 2030.9L833.5 2031.7L836.4 2032.4L839.3 2033.1L842.2 2033.8L845.1 2034.5L848.0 2035.2L850.9 2035.9L853.8 2036.6L856.7 2037.3L859.6 2038.0L862.5 2038.7L865.4 2039.4L868.3 2040.1L871.2 2040.8L874.1 2041.5L877.0 2042.1L879.9 2042.8L882.8 2043.5L885.8 2044.2L888.7 2044.9L891.6 2045.5L894.5 2046.2L897.4 2046.9L900.3 2047.5L903.2 2048.2L906.1 2048.9L909.1 2049.5L912.0 2050.2L914.9 2050.8L917.8 2051.5L920.7 2052.1L923.6 2052.8L926.6 2053.4L929.5 2054.1L932.4 2054.7L935.3 2055.4L938.2 2056.0L941.2 2056.7L944.1 2057.3L947.0 2058.0L949.9 2058.6L952.9 2059.2L955.8 2059.9L958.7 2060.5L961.6 2061.1L964.6 2061.8L967.5 2062.4L970.4 2063.0L973.3 2063.7L976.3 2064.3L979.2 2064.9L982.1 2065.6L985.1 2066.2L988.0 2066.8L990.9 2067.5L993.9 2068.1L996.8 2068.7L999.7 2069.4L1002.7 2070.0L1005.6 2070.6L1008.5 2071.2L1011.5 2071.9L1014.4 2072.5L1017.3 2073.1L1020.3 2073.7L1023.2 2074.4L1026.1 2075.0L1029.1 2075.6L1032.0 2076.3L1034.9 2076.9L1037.9 2077.5L1040.8 2078.1L1043.8 2078.8L1046.7 2079.4L1049.6 2080.0L1052.6 2080.7L1055.5 2081.3L1058.5 2081.9L1061.4 2082.6L1064.3 2083.2L1067.3 2083.8L1070.2 2084.5L1073.2 2085.1L1076.1 2085.7L1079.1 2086.4L1082.0 2087.0L1084.9 2087.6L1087.9 2088.3L1090.8 2088.9L1093.8 2089.6L1096.7 2090.2L1099.7 2090.8L1102.6 2091.5L1105.6 2092.1L1108.5 2092.8L1111.4 2093.4L1114.4 2094.1L1117.3 2094.7L1120.3 2095.4L1123.2 2096.1L1126.2 2096.7L1129.1 2097.4L1132.1 2098.0L1135.0 2098.7L1138.0 2099.4L1140.9 2100.0L1143.9 2100.7L1146.8 2101.4L1149.8 2102.0L1152.7 2102.7L1155.7 2103.4L1158.6 2104.1L1161.6 2104.8L1164.5 2105.4L1167.5 2106.1L1170.4 2106.8L1173.4 2107.5L1176.3 2108.2L1179.3 2108.9L1182.2 2109.6L1185.2 2110.3L1188.1 2111.0L1191.1 2111.7L1194.0 2112.5L1196.9 2113.2L1199.9 2113.9L1202.8 2114.7L1205.8 2115.4L1208.7 2116.2L1211.6 2116.9L1214.5 2117.7L1217.5 2118.5L1220.4 2119.3L1223.3 2120.1L1226.2 2120.9L1229.1 2121.7L1232.0 2122.6L1234.9 2123.4L1237.8 2124.3L1240.7 2125.1L1243.5 2126.0L1246.4 2126.9L1249.3 2127.8L1252.1 2128.7L1255.0 2129.7L1257.8 2130.6L1260.7 2131.6L1263.5 2132.6L1266.3 2133.5L1269.1 2134.6L1271.9 2135.6L1274.7 2136.6L1277.5 2137.7L1280.3 2138.8L1283.1 2139.9L1285.8 2141.0L1288.6 2142.1L1291.3 2143.3L1294.1 2144.4L1296.8 2145.6L1299.5 2146.8L1302.2 2148.1L1304.9 2149.3L1307.6 2150.6L1310.2 2151.9L1312.9 2153.2L1315.5 2154.6L1318.2 2155.9L1320.8 2157.3L1323.4 2158.7L1326.0 2160.2L1328.6 2161.6L1331.1 2163.1L1333.7 2164.6L1336.2 2166.1L1338.8 2167.7L1341.3 2169.3L1343.8 2170.9L1346.2 2172.5L1348.7 2174.1L1351.2 2175.8L1353.6 2177.5L1356.0 2179.2L1358.4 2180.9L1360.8 2182.7L1363.2 2184.4L1365.5 2186.2L1367.9 2188.0L1370.2 2189.9L1372.5 2191.7L1374.8 2193.6L1377.1 2195.5L1379.3 2197.5L1381.6 2199.4L1383.8 2201.4L1386.0 2203.4L1388.1 2205.4L1390.3 2207.4L1392.4 2209.5L1394.5 2211.5L1396.6 2213.6L1398.7 2215.7L1400.8 2217.9L1402.8 2220.0L1404.8 2222.2L1406.8 2224.4L1408.8 2226.6L1410.7 2228.9L1412.7 2231.1L1414.6 2233.4L1416.5 2235.7L1418.3 2238.0L1420.2 2240.3L1422.0 2242.7L1423.8 2245.1L1425.6 2247.5L1427.3 2249.9L1429.1 2252.3L1430.8 2254.7L1432.5 2257.2L1434.1 2259.7L1435.8 2262.2L1437.4 2264.7L1439.0 2267.2L1440.6 2269.7L1442.2 2272.3L1443.8 2274.9L1445.3 2277.5L1446.8 2280.1L1448.3 2282.7L1449.8 2285.3L1451.2 2287.9L1452.7 2290.6L1454.1 2293.3L1455.5 2295.9L1456.9 2298.6L1458.2 2301.3L1459.6 2304.1L1460.9 2306.8L1462.2 2309.5L1463.5 2312.3L1464.8 2315.0L1466.1 2317.8L1467.3 2320.6L1468.5 2323.3L1469.7 2326.1L1470.9 2328.9L1472.1 2331.8L1473.3 2334.6L1474.4 2337.4L1475.5 2340.2L1476.6 2343.1L1477.7 2345.9L1478.8 2348.8L1479.9 2351.6L1480.9 2354.5L1482.0 2357.4L1483.0 2360.3L1484.0 2363.1L1485.0 2366.0L1485.9 2368.9L1486.9 2371.8L1487.8 2374.7L1488.8 2377.6L1489.7 2380.5L1490.6 2383.4L1491.5 2386.3L1492.4 2389.3L1493.2 2392.2L1494.1 2395.1L1494.9 2398.0L1495.8 2400.9L1496.6 2403.9L1497.4 2406.8L1498.2 2409.7L1499.0 2412.7L1499.7 2415.6L1500.5 2418.5L1501.2 2421.5L1502.0 2424.4L1502.7 2427.3L1503.4 2430.2L1504.1 2433.2L1504.8 2436.1L1505.5 2439.0L1506.2 2442.0L1506.9 2444.9L1507.6 2447.8L1508.2 2450.7L1508.9 2453.6L1509.5 2456.6L1510.1 2459.5L1510.8 2462.4L1511.4 2465.3L1512.0 2468.2L1512.6 2471.1L1513.2 2474.0L1513.8 2476.9L1514.4 2479.8L1515.0 2482.7L1515.5 2485.5L1516.1 2488.4L1516.7 2491.3L1517.2 2494.1L1517.8 2497.0L1518.3 2499.9L1518.9 2502.7L1519.2 2504.3L1523.5 2303.0" stroke="#d93a21"/>
<path d="M240.0 1627.4L243.0 1627.4L243.3 1630.9L243.7 1634.4L244.0 1638.0L244.3 1641.5L244.7 1645.0L245.0 1648.5L245.3 1652.0L245.6 1655.6L245.9 1659.1L246.1 1662.7L246.3 1666.4L246.5 1670.2L246.6 1674.0L246.7 1677.8L246.8 1681.6L246.9 1685.4L247.0 1689.2L247.1 1693.0L247.2 1696.7L247.3 1700.3L247.4 1703.6L247.6 1706.9L247.7 1710.1L247.9 1713.4L248.1 1716.6L248.2 1719.7L248.4 1722.8L248.5 1725.8L248.7 1728.8L248.8 1731.6L248.9 1733.8L248.9 1736.0L248.9 1738.1L248.9 1740.2L248.9 1742.2L249.0 1744.2L249.0 1746.2L249.1 1748.1L249.3 1750.0L249.6 1751.9L249.9 1753.5L250.3 1755.1L250.7 1756.7L251.1 1758.2L251.6 1759.7L252.1 1761.2L252.6 1762.6L253.1 1764.1L253.6 1765.5L254.2 1767.0L254.8 1768.4L255.3 1769.8L255.9 1771.2L256.5 1772.6L257.1 1774.0L257.8 1775.4L258.4 1776.7L259.1 1778.1L259.8 1779.5L260.5 1780.8L261.2 1782.1L262.0 1783.5L262.7 1784.8L263.5 1786.1L264.3 1787.4L265.1 1788.7L265.9 1790.0L266.8 1791.3L267.7 1792.6L268.6 1793.9L269.7 1795.4L270.8 1796.8L271.9 1798.3L273.1 1799.8L274.3 1801.2L275.5 1802.7L276.7 1804.1L278.0 1805.6L279.3 1806.9L280.5 1808.3L281.7 1809.6L282.9 1810.8L284.1 1812.0L285.3 1813.2L286.5 1814.4L287.8 1815.5L289.0 1816.7L290.3 1817.8L291.6 1819.0L293.0 1820.2L294.6 1821.6L296.2 1823.0L297.9 1824.3L299.7 1825.7L301.4 1827.1L303.2 1828.5L305.0 1829.9L306.9 1831.3L308.7 1832.7L310.6 1834.0L312.7 1835.4L314.8 1836.8L316.9 1838.3L319.0 1839.7L321.2 1841.0L323.4 1842.4L325.7 1843.8L327.9 1845.1L330.2 1846.5L332.5 1847.8L335.1 1849.2L337.8 1850.5L340.4 1851.9L343.1 1853.2L345.7 1854.6L348.4 1856.0L351.1 1857.3L353.7 1858.7L356.4 1860.0L359.0 1861.4L361.7 1862.8L364.4 1864.1L367.0 1865.5L369.7 1866.8L372.3 1868.2L375.0 1869.5L377.7 1870.9L380.4 1872.2L383.0 1873.6L385.7 1874.9L388.4 1876.3L391.1 1877.6L393.7 1879.0L396.4 1880.3L399.1 1881.6L401.8 1883.0L404.5 1884.3L407.1 1885.6L409.8 1887.0L412.5 1888.3L415.2 1889.6L417.9 1891.0L420.6 1892.3L423.3 1893.6L426.0 1895.0L428.7 1896.3L431.4 1897.6L434.1 1898.9L436.8 1900.2L439.5 1901.6L442.2 1902.9L444.9 1904.2L447.6 1905.5L450.3 1906.8L453.0 1908.1L455.7 1909.4L458.4 1910.7L461.2 1912.0L463.9 1913.3L466.6 1914.6L469.3 1915.9L472.0 1917.2L474.8 1918.5L477.5 1919.7L480.2 1921.0L482.9 1922.3L485.7 1923.6L488.4 1924.8L491.1 1926.1L493.8 1927.4L496.6 1928.6L499.3 1929.9L502.1 1931.2L504.8 1932.4L507.5 1933.7L510.3 1934.9L513.0 1936.2L515.8 1937.4L518.5 1938.7L521.2 1939.9L524.0 1941.1L526.7 1942.4L529.5 1943.6L532.2 1944.8L535.0 1946.0L537.8 1947.2L540.5 1948.5L543.3 1949.7L546.0 1950.9L548.8 1952.1L551.5 1953.3L554.3 1954.5L557.1 1955.7L559.8 1956.8L562.6 1958.0L565.4 1959.2L568.2 1960.4L570.9 1961.6L573.7 1962.7L576.5 1963.9L579.3 1965.0L582.0 1966.2L584.8 1967.4L587.6 1968.5L590.4 1969.6L593.2 1970.8L595.9 1971.9L598.7 1973.0L601.5 1974.2L604.3 1975.3L607.1 1976.4L609.9 1977.5L612.7 1978.6L615.5 1979.7L618.3 1980.8L621.1 1981.9L623.9 1983.0L626.7 1984.1L629.5 1985.2L632.3 1986.3L635.1 1987.3L637.9 1988.4L640.7 1989.4L643.5 1990.5L646.3 1991.5L649.1 1992.6L651.9 1993.6L654.8 1994.7L657.6 1995.7L660.4 1996.7L663.2 1997.7L666.0 1998.7L668.9 1999.8L671.7 2000.8L674.5 2001.8L677.3 2002.7L680.2 2003.7L683.0 2004.7L685.8 2005.7L688.7 2006.7L691.5 2007.6L694.3 2008.6L697.2 2009.5L700.0 2010.5L702.8 2011.4L705.7 2012.3L708.5 2013.3L711.4 2014.2L714.2 2015.1L717.1 2016.0L719.9 2016.9L722.8 2017.8L725.6 2018.7L728.5 2019.6L731.3 2020.5L734.2 2021.3L737.0 2022.2L739.9 2023.1L742.8 2023.9L745.6 2024.8L748.5 2025.6L751.3 2026.5L754.2 2027.3L757.1 2028.1L759.9 2029.0L762.8 2029.8L765.7 2030.6L768.6 2031.4L771.4 2032.2L774.3 2033.0L777.2 2033.8L780.0 2034.6L782.9 2035.4L785.8 2036.2L788.7 2037.0L791.6 2037.7L794.4 2038.5L797.3 2039.3L800.2 2040.0L803.1 2040.8L806.0 2041.5L808.9 2042.3L811.8 2043.0L814.6 2043.8L817.5 2044.5L820.4 2045.3L823.3 2046.0L826.2 2046.7L829.1 2047.5L832.0 2048.2L834.9 2048.9L837.8 2049.6L840.7 2050.3L843.6 2051.1L846.5 2051.8L849.4 2052.5L852.3 2053.2L855.2 2053.9L858.1 2054.6L861.0 2055.3L863.9 2056.0L866.8 2056.7L869.7 2057.3L872.6 2058.0L875.5 2058.7L878.4 2059.4L881.4 2060.1L884.3 2060.8L887.2 2061.4L890.1 2062.1L893.0 2062.8L895.9 2063.5L898.8 2064.1L901.7 2064.8L904.7 2065.5L907.6 2066.2L910.5 2066.8L913.4 2067.5L916.3 2068.2L919.2 2068.8L922.2 2069.5L925.1 2070.1L928.0 2070.8L930.9 2071.5L933.9 2072.1L936.8 2072.8L939.7 2073.5L942.6 2074.1L945.5 2074.8L948.5 2075.4L951.4 2076.1L954.3 2076.8L957.2 2077.4L960.2 2078.1L963.1 2078.7L966.0 2079.4L968.9 2080.1L971.9 2080.7L974.8 2081.4L977.7 2082.1L980.7 2082.7L983.6 2083.4L986.5 2084.0L989.5 2084.7L992.4 2085.4L995.3 2086.1L998.2 2086.7L1001.2 2087.4L1004.1 2088.1L1007.0 2088.7L1010.0 2089.4L1012.9 2090.1L1015.8 2090.8L1018.8 2091.5L1021.7 2092.1L1024.6 2092.8L1027.6 2093.5L1030.5 2094.2L1033.4 2094.9L1036.4 2095.6L1039.3 2096.3L1042.2 2097.0L1045.2 2097.7L1048.1 2098.4L1051.0 2099.1L1054.0 2099.8L1056.9 2100.5L1059.8 2101.2L1062.8 2101.9L1065.7 2102.6L1068.6 2103.4L1071.6 2104.1L1074.5 2104.8L1077.4 2105.6L1080.4 2106.3L1083.3 2107.0L1086.3 2107.8L1089.2 2108.5L1092.1 2109.3L1095.1 2110.0L1098.0 2110.8L1100.9 2111.5L1103.9 2112.3L1106.8 2113.1L1109.7 2113.8L1112.7 2114.6L1115.6 2115.4L1118.5 2116.2L1121.5 2117.0L1124.4 2117.8L1127.3 2118.6L1130.3 2119.4L1133.2 2120.2L1136.1 2121.0L1139.0 2121.8L1142.0 2122.6L1144.9 2123.5L1147.8 2124.3L1150.7 2125.2L1153.6 2126.0L1156.5 2126.9L1159.4 2127.8L1162.3 2128.7L1165.2 2129.6L1168.1 2130.5L1171.0 2131.4L1173.9 2132.3L1176.8 2133.2L1179.7 2134.2L1182.5 2135.1L1185.4 2136.1L1188.3 2137.0L1191.1 2138.0L1194.0 2139.0L1196.8 2140.0L1199.6 2141.1L1202.5 2142.1L1205.3 2143.1L1208.1 2144.2L1210.9 2145.3L1213.7 2146.4L1216.5 2147.5L1219.3 2148.6L1222.0 2149.7L1224.8 2150.9L1227.6 2152.0L1230.3 2153.2L1233.0 2154.4L1235.8 2155.6L1238.5 2156.8L1241.2 2158.1L1243.9 2159.3L1246.6 2160.6L1249.2 2161.9L1251.9 2163.2L1254.5 2164.6L1257.2 2165.9L1259.8 2167.3L1262.4 2168.7L1265.0 2170.1L1267.6 2171.5L1270.2 2172.9L1272.8 2174.4L1275.3 2175.9L1277.8 2177.4L1280.4 2178.9L1282.9 2180.5L1285.4 2182.1L1287.8 2183.6L1290.3 2185.3L1292.8 2186.9L1295.2 2188.6L1297.6 2190.3L1300.0 2192.0L1302.4 2193.7L1304.8 2195.4L1307.1 2197.2L1309.5 2199.0L1311.8 2200.8L1314.1 2202.7L1316.4 2204.5L1318.7 2206.4L1320.9 2208.3L1323.1 2210.2L1325.4 2212.2L1327.6 2214.1L1329.8 2216.1L1331.9 2218.1L1334.1 2220.2L1336.2 2222.2L1338.3 2224.3L1340.4 2226.4L1342.5 2228.5L1344.5 2230.6L1346.6 2232.7L1348.6 2234.9L1350.6 2237.1L1352.6 2239.3L1354.5 2241.5L1356.5 2243.8L1358.4 2246.0L1360.3 2248.3L1362.2 2250.6L1364.0 2252.9L1365.9 2255.2L1367.7 2257.6L1369.5 2260.0L1371.3 2262.3L1373.0 2264.7L1374.8 2267.2L1376.5 2269.6L1378.2 2272.1L1379.8 2274.5L1381.5 2277.0L1383.1 2279.5L1384.7 2282.0L1386.3 2284.6L1387.9 2287.1L1389.4 2289.7L1390.9 2292.3L1392.4 2294.9L1393.9 2297.5L1395.4 2300.1L1396.8 2302.7L1398.3 2305.4L1399.7 2308.0L1401.1 2310.7L1402.4 2313.4L1403.8 2316.1L1405.1 2318.8L1406.4 2321.5L1407.7 2324.3L1409.0 2327.0L1410.2 2329.8L1411.5 2332.6L1412.7 2335.3L1413.9 2338.1L1415.1 2340.9L1416.3 2343.7L1417.4 2346.5L1418.6 2349.4L1419.7 2352.2L1420.8 2355.0L1421.9 2357.9L1423.0 2360.7L1424.0 2363.6L1425.1 2366.5L1426.1 2369.4L1427.1 2372.2L1428.1 2375.1L1429.1 2378.0L1430.0 2380.9L1431.0 2383.9L1431.9 2386.8L1432.9 2389.7L1433.8 2392.6L1434.7 2395.5L1435.5 2398.5L1436.4 2401.4L1437.3 2404.4L1438.1 2407.3L1438.9 2410.2L1439.7 2413.2L1440.5 2416.1L1441.3 2419.1L1442.1 2422.1L1442.9 2425.0L1443.6 2428.0L1444.3 2430.9L1445.1 2433.9L1445.8 2436.9L1446.5 2439.8L1447.2 2442.8L1447.8 2445.7L1448.5 2448.7L1449.2 2451.7L1449.8 2454.6L1450.5 2457.6L1451.1 2460.5L1451.7 2463.5L1452.3 2466.4L1452.9 2469.4L1453.5 2472.3L1454.0 2475.3L1454.6 2478.2L1455.2 2481.1L1455.7 2484.1L1456.2 2487.0L1456.8 2489.9L1457.3 2492.8L1457.8 2495.8L1458.3 2498.7L1458.8 2501.6L1459.3 2504.5L1459.8 2507.4L1460.2 2510.2L1460.7 2513.1L1461.2 2516.0L1461.6 2518.8L1462.0 2521.7L1462.5 2524.5L1462.9 2527.4L1463.0 2528.0L1467.7 2312.4" stroke="#00bcf0"/>
</g>
<g class="l">
<line x1="284.7" y1="2068.0" x2="522.3" y2="2068.0" stroke="#ff1a00" stroke-width="19.4" stroke-linecap="round"/>
<line x1="284.7" y1="2177.2" x2="522.3" y2="2177.2" stroke="#3366ff" stroke-width="19.4" stroke-linecap="round"/>
<line x1="284.7" y1="2279.0" x2="522.3" y2="2279.0" stroke="#00c000" stroke-width="19.4" stroke-linecap="round"/>
<line x1="284.7" y1="2386.5" x2="522.3" y2="2386.5" stroke="#c033ff" stroke-width="19.4" stroke-linecap="round"/>
<line x1="284.7" y1="2501.6" x2="522.3" y2="2501.6" stroke="#d93a21" stroke-width="19.4" stroke-linecap="round"/>
<line x1="283.2" y1="2613.7" x2="522.3" y2="2613.7" stroke="#00b0f0" stroke-width="19.4" stroke-linecap="round"/>
</g>
<g class="t">
<text transform="matrix(0.3996 0 0 0.3978 134.20 76.11)" fill="#404040">4.4</text>
<text transform="matrix(0.4132 0 0 0.3970 134.15 230.71)" fill="#404040">4.2</text>
<text transform="matrix(0.3731 0 0 0.4077 182.61 386.31)" fill="#404040">4</text>
<text transform="matrix(0.4086 0 0 0.3971 133.01 539.81)" fill="#404040">3.8</text>
<text transform="matrix(0.4077 0 0 0.4022 132.92 697.99)" fill="#404040">3.6</text>
<text transform="matrix(0.4046 0 0 0.3970 132.95 852.11)" fill="#404040">3.4</text>
<text transform="matrix(0.4166 0 0 0.4000 132.83 1006.60)" fill="#404040">3.2</text>
<text transform="matrix(0.3720 0 0 0.3940 181.18 1161.11)" fill="#404040">3</text>
<text transform="matrix(0.3952 0 0 0.3956 241.94 1204.41)" fill="#404040">0</text>
<text transform="matrix(0.4046 0 0 0.3956 361.04 1204.41)" fill="#404040">500</text>
<text transform="matrix(0.3893 0 0 0.3956 502.19 1204.41)" fill="#404040">1000</text>
<text transform="matrix(0.3914 0 0 0.3956 681.15 1204.41)" fill="#404040">1500</text>
<text transform="matrix(0.4010 0 0 0.3956 855.99 1204.41)" fill="#404040">2000</text>
<text transform="matrix(0.4008 0 0 0.3956 1034.99 1204.41)" fill="#404040">2500</text>
<text transform="matrix(0.3997 0 0 0.3956 1213.50 1204.41)" fill="#404040">3000</text>
<text transform="matrix(0.4008 0 0 0.3956 1389.89 1204.41)" fill="#404040">3500</text>
<text transform="matrix(0.3946 0 0 0.3956 1569.32 1204.41)" fill="#404040">4000</text>
<text transform="matrix(0.3933 0 0 0.3956 1748.33 1204.41)" fill="#404040">4500</text>
<text transform="matrix(0.3982 0 0 0.3956 1925.22 1204.41)" fill="#404040">5000</text>
<text transform="matrix(0 -0.4822 0.4789 0 90.26 808.36)" fill="#404040">Voltage/V</text>
<text transform="matrix(0.4778 0 0 0.4784 806.78 1315.24)" fill="#404040">Charging time/s</text>
<text class="cap" transform="matrix(0.3688 0 0 0.3828 707.38 1434.82)" fill="#000000">(<tspan font-weight="bold">a</tspan>)</text>
<text class="cap" transform="matrix(0.4667 0 0 0.4560 812.17 1434.99)" fill="#000000">Charging curve</text>
<text transform="matrix(0.4835 0 0 0.4858 1483.13 506.63)" fill="#000000">Cycle2</text>
<text transform="matrix(0.4805 0 0 0.4799 1476.56 624.64)" fill="#000000">Cycle49</text>
<text transform="matrix(0.4747 0 0 0.4799 1475.80 737.74)" fill="#000000">Cycle84</text>
<text transform="matrix(0.4771 0 0 0.4843 1475.78 852.63)" fill="#000000">Cycle140</text>
<text transform="matrix(0.4758 0 0 0.4799 1475.79 970.24)" fill="#000000">Cycle166</text>
<text transform="matrix(0.4107 0 0 0.4269 129.16 1545.92)" fill="#404040">4.4</text>
<text transform="matrix(0.4247 0 0 0.4215 129.10 1662.94)" fill="#404040">4.2</text>
<text transform="matrix(0.3957 0 0 0.4392 160.82 1781.34)" fill="#404040">4</text>
<text transform="matrix(0.4185 0 0 0.4221 129.01 1894.53)" fill="#404040">3.8</text>
<text transform="matrix(0.4179 0 0 0.4252 129.02 2012.02)" fill="#404040">3.6</text>
<text transform="matrix(0.4127 0 0 0.4252 129.07 2129.52)" fill="#404040">3.4</text>
<text transform="matrix(0.4271 0 0 0.4259 128.93 2246.52)" fill="#404040">3.2</text>
<text transform="matrix(0.3817 0 0 0.4328 160.18 2364.13)" fill="#404040">3</text>
<text transform="matrix(0.4283 0 0 0.4265 126.65 2478.62)" fill="#404040">2.8</text>
<text transform="matrix(0.4277 0 0 0.4296 126.65 2595.61)" fill="#404040">2.6</text>
<text transform="matrix(0.4223 0 0 0.4311 126.70 2712.51)" fill="#404040">2.4</text>
<text transform="matrix(0.4226 0 0 0.4333 231.62 2759.13)" fill="#404040">0</text>
<text transform="matrix(0.4261 0 0 0.4333 437.39 2759.13)" fill="#404040">500</text>
<text transform="matrix(0.4045 0 0 0.4333 646.72 2759.13)" fill="#404040">1000</text>
<text transform="matrix(0.4083 0 0 0.4333 920.25 2759.13)" fill="#404040">1500</text>
<text transform="matrix(0.4191 0 0 0.4333 1184.83 2759.13)" fill="#404040">2000</text>
<text transform="matrix(0.4180 0 0 0.4333 1443.94 2759.13)" fill="#404040">2500</text>
<text transform="matrix(0.4165 0 0 0.4333 1684.74 2759.13)" fill="#404040">3000</text>
<text transform="matrix(0.4131 0 0 0.4333 1912.67 2759.13)" fill="#404040">3500</text>
<text transform="matrix(0 -0.5186 0.4850 0 93.85 2305.44)" fill="#404040">Voltage/V</text>
<text transform="matrix(0.4941 0 0 0.5107 758.14 2874.00)" fill="#404040">Discharging time/s</text>
<text class="cap" transform="matrix(0.3863 0 0 0.3867 652.82 2997.56)" fill="#000000">(<tspan font-weight="bold">b</tspan>)</text>
<text class="cap" transform="matrix(0.4592 0 0 0.4244 769.34 2996.00)" fill="#000000">Discharging curve</text>
<text transform="matrix(0.4995 0 0 0.5149 561.80 2116.47)" fill="#000000">Cycle2</text>
<text transform="matrix(0.4885 0 0 0.5149 559.69 2220.87)" fill="#000000">Cycle33</text>
<text transform="matrix(0.4916 0 0 0.5149 559.67 2324.77)" fill="#000000">Cycle66</text>
<text transform="matrix(0.4941 0 0 0.5149 551.75 2434.27)" fill="#000000">Cycle100</text>
<text transform="matrix(0.4949 0 0 0.5149 551.74 2543.07)" fill="#000000">Cycle132</text>
<text transform="matrix(0.4928 0 0 0.5149 551.76 2653.57)" fill="#000000">Cycle166</text>
</g>
</svg>
</body></html>
